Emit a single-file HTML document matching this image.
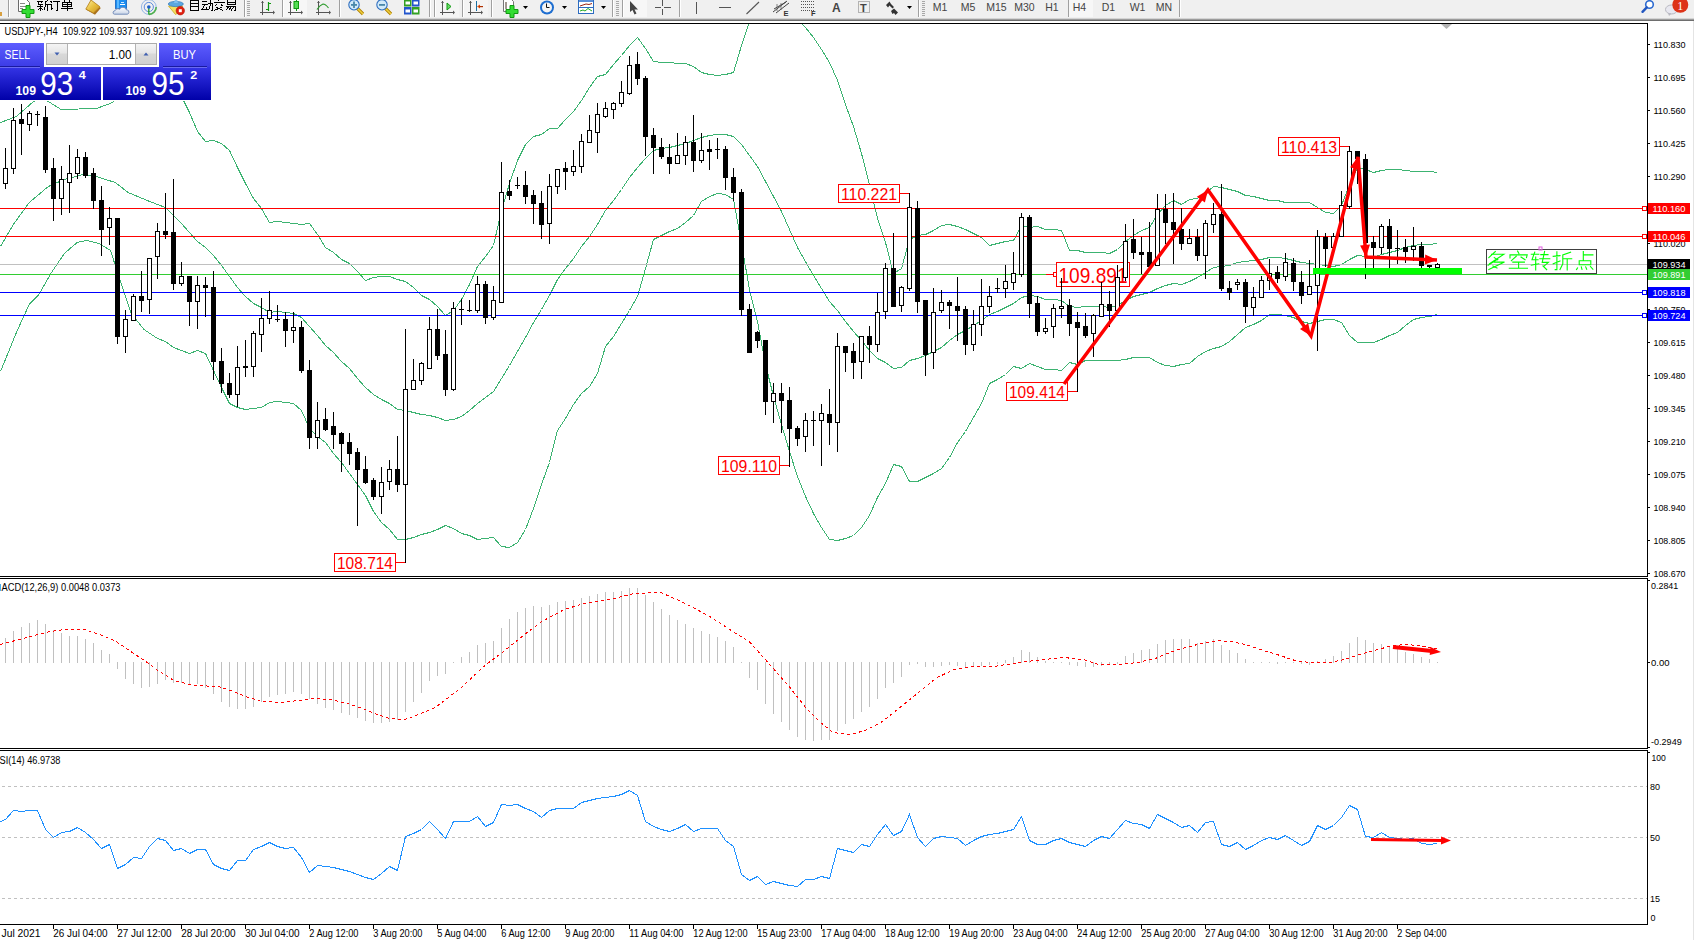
<!DOCTYPE html>
<html><head><meta charset="utf-8"><title>MT4</title>
<style>
html,body{margin:0;padding:0;width:1694px;height:940px;overflow:hidden;background:#fff;font-family:"Liberation Sans",sans-serif;}
</style></head><body>
<svg width="1694" height="940" viewBox="0 0 1694 940" style="position:absolute;left:0;top:0;display:block">
<defs><clipPath id="cm"><rect x="0" y="24" width="1647" height="552"/></clipPath><clipPath id="cmacd"><rect x="0" y="579" width="1647" height="169"/></clipPath><clipPath id="crsi"><rect x="0" y="751" width="1647" height="173"/></clipPath></defs>
<rect x="0" y="0" width="1694" height="18" fill="#F0F0F0"/>
<rect x="0" y="18" width="1694" height="1" fill="#D4D4D4"/>
<rect x="0" y="19" width="1694" height="1" fill="#9C9C9C"/>
<rect x="0" y="20" width="1694" height="1" fill="#6E6E6E"/>
<rect x="1693" y="21" width="1" height="919" fill="#E4E4E4"/>
<g clip-path="url(#cm)">
<g fill="none" stroke="#3CB371" stroke-width="1" shape-rendering="crispEdges">
<polyline points="0.5,122.5 16.4,116.5 32.4,102.5 40.5,96.5 51.5,103.5 61.1,109.5 96.2,108.5 110.5,103.5 130.5,90.5 150.5,75.5 157.5,70.5 165.5,73.5 173.5,84.5 181.5,96.5 189.5,112.5 197.5,131.5 205.5,141.5 213.5,140.5 221.5,143.5 229.5,150.5 237.5,167.5 245.5,183.5 253.5,198.5 261.5,208.5 269.5,222.5 277.5,221.5 285.5,222.5 293.5,223.5 301.5,224.5 309.5,223.5 317.5,234.5 325.5,247.5 333.5,252.5 341.5,259.5 349.5,263.5 357.5,271.5 365.5,280.5 373.5,277.5 381.5,276.5 389.5,276.5 397.5,279.5 405.5,281.5 413.5,287.5 421.5,295.5 429.5,299.5 437.5,306.5 445.5,315.5 453.5,310.5 461.5,299.5 469.5,284.5 477.5,266.5 485.5,256.5 493.5,245.5 501.5,210.5 509.5,183.5 517.5,160.5 525.5,144.5 533.5,136.5 541.5,134.5 549.5,128.5 557.5,128.5 565.5,119.5 573.5,111.5 581.5,100.5 589.5,87.5 597.5,76.5 605.5,74.5 613.5,64.5 621.5,55.5 629.5,45.5 637.5,37.5 645.5,48.5 653.5,61.5 661.5,62.5 669.5,62.5 677.5,63.5 685.5,63.5 693.5,66.5 701.5,72.5 709.5,74.5 717.5,75.5 725.5,74.5 733.5,72.5 741.5,45.5 749.5,21.5 757.5,12.5 765.5,-1.5 773.5,-4.5 781.5,-2.5 789.5,7.5 797.5,18.5 805.5,27.5 813.5,37.5 821.5,49.5 829.5,62.5 837.5,80.5 845.5,104.5 853.5,126.5 861.5,153.5 869.5,184.5 877.5,218.5 885.5,242.5 893.5,273.5 901.5,268.5 909.5,239.5 917.5,235.5 925.5,234.5 933.5,230.5 941.5,225.5 949.5,224.5 957.5,226.5 965.5,229.5 973.5,233.5 981.5,237.5 989.5,245.5 997.5,243.5 1005.5,241.5 1013.5,240.5 1021.5,225.5 1029.5,227.5 1037.5,226.5 1045.5,229.5 1053.5,229.5 1061.5,230.5 1069.5,250.5 1077.5,250.5 1085.5,252.5 1093.5,252.5 1101.5,252.5 1109.5,253.5 1117.5,249.5 1125.5,241.5 1133.5,235.5 1141.5,230.5 1149.5,227.5 1157.5,214.5 1165.5,205.5 1173.5,200.5 1181.5,204.5 1189.5,199.5 1197.5,198.5 1205.5,193.5 1213.5,186.5 1221.5,187.5 1229.5,189.5 1237.5,191.5 1245.5,195.5 1253.5,196.5 1261.5,198.5 1269.5,200.5 1277.5,200.5 1285.5,202.5 1293.5,202.5 1301.5,202.5 1309.5,202.5 1317.5,207.5 1325.5,212.5 1333.5,213.5 1341.5,205.5 1349.5,184.5 1357.5,167.5 1365.5,169.5 1373.5,172.5 1381.5,170.5 1389.5,169.5 1397.5,169.5 1405.5,170.5 1413.5,171.5 1421.5,171.5 1429.5,171.5 1437.5,172.5"/>
<polyline points="0.5,246.5 13.3,224.5 29.2,202.5 48.3,186.5 64.3,179.5 83.4,174.5 96.2,176.5 115.3,182.5 128.1,192.5 147.2,200.5 157.5,204.5 165.5,207.5 173.5,215.5 181.5,223.5 189.5,232.5 197.5,241.5 205.5,247.5 213.5,255.5 221.5,265.5 229.5,276.5 237.5,287.5 245.5,296.5 253.5,303.5 261.5,307.5 269.5,312.5 277.5,311.5 285.5,312.5 293.5,313.5 301.5,317.5 309.5,326.5 317.5,335.5 325.5,345.5 333.5,352.5 341.5,361.5 349.5,368.5 357.5,378.5 365.5,387.5 373.5,394.5 381.5,399.5 389.5,403.5 397.5,409.5 405.5,410.5 413.5,412.5 421.5,414.5 429.5,415.5 437.5,417.5 445.5,420.5 453.5,419.5 461.5,416.5 469.5,410.5 477.5,403.5 485.5,397.5 493.5,391.5 501.5,378.5 509.5,365.5 517.5,351.5 525.5,337.5 533.5,322.5 541.5,309.5 549.5,295.5 557.5,279.5 565.5,268.5 573.5,258.5 581.5,246.5 589.5,236.5 597.5,224.5 605.5,210.5 613.5,200.5 621.5,189.5 629.5,177.5 637.5,167.5 645.5,158.5 653.5,150.5 661.5,148.5 669.5,147.5 677.5,145.5 685.5,143.5 693.5,140.5 701.5,137.5 709.5,135.5 717.5,134.5 725.5,134.5 733.5,136.5 741.5,144.5 749.5,155.5 757.5,166.5 765.5,181.5 773.5,196.5 781.5,211.5 789.5,229.5 797.5,247.5 805.5,261.5 813.5,275.5 821.5,288.5 829.5,301.5 837.5,310.5 845.5,321.5 853.5,331.5 861.5,340.5 869.5,350.5 877.5,358.5 885.5,362.5 893.5,368.5 901.5,367.5 909.5,360.5 917.5,358.5 925.5,355.5 933.5,351.5 941.5,347.5 949.5,340.5 957.5,334.5 965.5,330.5 973.5,325.5 981.5,320.5 989.5,314.5 997.5,311.5 1005.5,307.5 1013.5,303.5 1021.5,297.5 1029.5,295.5 1037.5,296.5 1045.5,299.5 1053.5,299.5 1061.5,300.5 1069.5,306.5 1077.5,307.5 1085.5,306.5 1093.5,306.5 1101.5,306.5 1109.5,307.5 1117.5,305.5 1125.5,300.5 1133.5,296.5 1141.5,294.5 1149.5,292.5 1157.5,288.5 1165.5,285.5 1173.5,283.5 1181.5,284.5 1189.5,281.5 1197.5,277.5 1205.5,272.5 1213.5,267.5 1221.5,266.5 1229.5,265.5 1237.5,262.5 1245.5,261.5 1253.5,260.5 1261.5,259.5 1269.5,257.5 1277.5,257.5 1285.5,258.5 1293.5,260.5 1301.5,262.5 1309.5,263.5 1317.5,264.5 1325.5,265.5 1333.5,266.5 1341.5,264.5 1349.5,259.5 1357.5,255.5 1365.5,256.5 1373.5,257.5 1381.5,254.5 1389.5,252.5 1397.5,250.5 1405.5,247.5 1413.5,245.5 1421.5,244.5 1429.5,244.5 1437.5,243.5"/>
<polyline points="0.5,371.5 16.4,332.5 29.2,304.5 38.8,294.5 51.5,272.5 64.3,253.5 77.1,242.5 86.6,240.5 99.4,243.5 110.5,250.5 118.5,275.5 131.3,313.5 144.0,329.5 157.5,338.5 165.5,341.5 173.5,347.5 181.5,350.5 189.5,353.5 197.5,350.5 205.5,353.5 213.5,370.5 221.5,387.5 229.5,403.5 237.5,407.5 245.5,409.5 253.5,408.5 261.5,407.5 269.5,402.5 277.5,401.5 285.5,402.5 293.5,403.5 301.5,410.5 309.5,428.5 317.5,436.5 325.5,442.5 333.5,453.5 341.5,462.5 349.5,473.5 357.5,484.5 365.5,495.5 373.5,511.5 381.5,522.5 389.5,529.5 397.5,539.5 405.5,539.5 413.5,537.5 421.5,534.5 429.5,532.5 437.5,529.5 445.5,525.5 453.5,528.5 461.5,533.5 469.5,535.5 477.5,539.5 485.5,538.5 493.5,537.5 501.5,546.5 509.5,547.5 517.5,542.5 525.5,529.5 533.5,508.5 541.5,484.5 549.5,462.5 557.5,430.5 565.5,418.5 573.5,404.5 581.5,393.5 589.5,386.5 597.5,373.5 605.5,346.5 613.5,336.5 621.5,323.5 629.5,310.5 637.5,296.5 645.5,268.5 653.5,239.5 661.5,235.5 669.5,231.5 677.5,228.5 685.5,222.5 693.5,215.5 701.5,201.5 709.5,196.5 717.5,193.5 725.5,194.5 733.5,199.5 741.5,243.5 749.5,289.5 757.5,321.5 765.5,364.5 773.5,396.5 781.5,424.5 789.5,451.5 797.5,476.5 805.5,496.5 813.5,513.5 821.5,527.5 829.5,539.5 837.5,540.5 845.5,538.5 853.5,535.5 861.5,527.5 869.5,515.5 877.5,497.5 885.5,483.5 893.5,464.5 901.5,466.5 909.5,481.5 917.5,481.5 925.5,477.5 933.5,473.5 941.5,468.5 949.5,457.5 957.5,442.5 965.5,431.5 973.5,417.5 981.5,403.5 989.5,383.5 997.5,379.5 1005.5,374.5 1013.5,366.5 1021.5,368.5 1029.5,363.5 1037.5,366.5 1045.5,369.5 1053.5,369.5 1061.5,370.5 1069.5,362.5 1077.5,364.5 1085.5,360.5 1093.5,360.5 1101.5,360.5 1109.5,360.5 1117.5,360.5 1125.5,359.5 1133.5,357.5 1141.5,357.5 1149.5,357.5 1157.5,362.5 1165.5,365.5 1173.5,366.5 1181.5,364.5 1189.5,363.5 1197.5,356.5 1205.5,351.5 1213.5,348.5 1221.5,346.5 1229.5,341.5 1237.5,334.5 1245.5,327.5 1253.5,324.5 1261.5,320.5 1269.5,314.5 1277.5,314.5 1285.5,315.5 1293.5,317.5 1301.5,321.5 1309.5,323.5 1317.5,321.5 1325.5,319.5 1333.5,319.5 1341.5,322.5 1349.5,335.5 1357.5,342.5 1365.5,342.5 1373.5,342.5 1381.5,339.5 1389.5,335.5 1397.5,332.5 1405.5,325.5 1413.5,319.5 1421.5,317.5 1429.5,316.5 1437.5,314.5"/>
</g>
<g shape-rendering="crispEdges">
<rect x="0" y="208" width="1647" height="1" fill="#FF0000"/>
<rect x="0" y="236" width="1647" height="1" fill="#FF0000"/>
<rect x="0" y="264" width="1647" height="1" fill="#C0C0C0"/>
<rect x="0" y="274" width="1647" height="1" fill="#32CD32"/>
<rect x="0" y="292" width="1647" height="1" fill="#0000FF"/>
<rect x="0" y="315" width="1647" height="1" fill="#0000FF"/>
</g>
<rect x="838.5" y="184.5" width="61" height="18" fill="#fff" stroke="#FF0000" stroke-width="1" shape-rendering="crispEdges"/>
<text x="869.0" y="199.8" font-family="Liberation Sans, sans-serif" font-size="16.8" fill="#FF0000" text-anchor="middle" textLength="56" lengthAdjust="spacingAndGlyphs">110.221</text>
<rect x="900" y="193" width="9" height="1" fill="#FF0000" shape-rendering="crispEdges"/>
<rect x="334.5" y="553.5" width="61" height="18" fill="#fff" stroke="#FF0000" stroke-width="1" shape-rendering="crispEdges"/>
<text x="365.0" y="568.8" font-family="Liberation Sans, sans-serif" font-size="16.8" fill="#FF0000" text-anchor="middle" textLength="56" lengthAdjust="spacingAndGlyphs">108.714</text>
<rect x="396" y="562" width="9" height="1" fill="#FF0000" shape-rendering="crispEdges"/>
<rect x="718.5" y="456.5" width="61" height="18" fill="#fff" stroke="#FF0000" stroke-width="1" shape-rendering="crispEdges"/>
<text x="749.0" y="471.8" font-family="Liberation Sans, sans-serif" font-size="16.8" fill="#FF0000" text-anchor="middle" textLength="56" lengthAdjust="spacingAndGlyphs">109.110</text>
<rect x="780" y="465" width="9" height="1" fill="#FF0000" shape-rendering="crispEdges"/>
<rect x="1006.5" y="382.5" width="61" height="18" fill="#fff" stroke="#FF0000" stroke-width="1" shape-rendering="crispEdges"/>
<text x="1037.0" y="397.8" font-family="Liberation Sans, sans-serif" font-size="16.8" fill="#FF0000" text-anchor="middle" textLength="56" lengthAdjust="spacingAndGlyphs">109.414</text>
<rect x="1068" y="391" width="9" height="1" fill="#FF0000" shape-rendering="crispEdges"/>
<rect x="1278.5" y="137.5" width="61" height="18" fill="#fff" stroke="#FF0000" stroke-width="1" shape-rendering="crispEdges"/>
<text x="1309.0" y="152.8" font-family="Liberation Sans, sans-serif" font-size="16.8" fill="#FF0000" text-anchor="middle" textLength="56" lengthAdjust="spacingAndGlyphs">110.413</text>
<rect x="1340" y="146" width="9" height="1" fill="#FF0000" shape-rendering="crispEdges"/>
<rect x="1056.5" y="262.5" width="73" height="24" fill="#fff" stroke="#FF0000" stroke-width="1" shape-rendering="crispEdges"/>
<text x="1093.0" y="283" font-family="Liberation Sans, sans-serif" font-size="21.8" fill="#FF0000" text-anchor="middle" textLength="69" lengthAdjust="spacingAndGlyphs">109.891</text>
<rect x="1046" y="274" width="8" height="1" fill="#FF0000"/>
<rect x="1053.5" y="272.5" width="3" height="4" fill="#fff" stroke="#FF0000" stroke-width="1" shape-rendering="crispEdges"/>
<g shape-rendering="crispEdges">
<rect x="5" y="148" width="1" height="41" fill="#000"/>
<rect x="3.5" y="168.5" width="4" height="15" fill="#fff" stroke="#000" stroke-width="1"/>
<rect x="13" y="108" width="1" height="66" fill="#000"/>
<rect x="11.5" y="120.5" width="4" height="48" fill="#fff" stroke="#000" stroke-width="1"/>
<rect x="21" y="104" width="1" height="51" fill="#000"/>
<rect x="19" y="119" width="5" height="5" fill="#000"/>
<rect x="29" y="111" width="1" height="20" fill="#000"/>
<rect x="27.5" y="113.5" width="4" height="11" fill="#fff" stroke="#000" stroke-width="1"/>
<rect x="37" y="111" width="1" height="15" fill="#000"/>
<rect x="35" y="114" width="5" height="1" fill="#000"/>
<rect x="45" y="106" width="1" height="67" fill="#000"/>
<rect x="43" y="117" width="5" height="53" fill="#000"/>
<rect x="53" y="158" width="1" height="63" fill="#000"/>
<rect x="51" y="168" width="5" height="31" fill="#000"/>
<rect x="61" y="166" width="1" height="49" fill="#000"/>
<rect x="59.5" y="179.5" width="4" height="19" fill="#fff" stroke="#000" stroke-width="1"/>
<rect x="69" y="145" width="1" height="68" fill="#000"/>
<rect x="67.5" y="173.5" width="4" height="9" fill="#fff" stroke="#000" stroke-width="1"/>
<rect x="77" y="149" width="1" height="30" fill="#000"/>
<rect x="75.5" y="157.5" width="4" height="16" fill="#fff" stroke="#000" stroke-width="1"/>
<rect x="85" y="152" width="1" height="26" fill="#000"/>
<rect x="83" y="157" width="5" height="19" fill="#000"/>
<rect x="93" y="168" width="1" height="41" fill="#000"/>
<rect x="91" y="173" width="5" height="28" fill="#000"/>
<rect x="101" y="186" width="1" height="70" fill="#000"/>
<rect x="99" y="200" width="5" height="30" fill="#000"/>
<rect x="109" y="207" width="1" height="38" fill="#000"/>
<rect x="107.5" y="218.5" width="4" height="9" fill="#fff" stroke="#000" stroke-width="1"/>
<rect x="117" y="218" width="1" height="126" fill="#000"/>
<rect x="115" y="218" width="5" height="119" fill="#000"/>
<rect x="125" y="310" width="1" height="43" fill="#000"/>
<rect x="123.5" y="319.5" width="4" height="17" fill="#fff" stroke="#000" stroke-width="1"/>
<rect x="133" y="294" width="1" height="27" fill="#000"/>
<rect x="131.5" y="296.5" width="4" height="24" fill="#fff" stroke="#000" stroke-width="1"/>
<rect x="141" y="271" width="1" height="41" fill="#000"/>
<rect x="139" y="296" width="5" height="5" fill="#000"/>
<rect x="149" y="258" width="1" height="56" fill="#000"/>
<rect x="147.5" y="258.5" width="4" height="41" fill="#fff" stroke="#000" stroke-width="1"/>
<rect x="157" y="223" width="1" height="56" fill="#000"/>
<rect x="155.5" y="231.5" width="4" height="25" fill="#fff" stroke="#000" stroke-width="1"/>
<rect x="165" y="193" width="1" height="46" fill="#000"/>
<rect x="163" y="231" width="5" height="4" fill="#000"/>
<rect x="173" y="179" width="1" height="111" fill="#000"/>
<rect x="171" y="232" width="5" height="52" fill="#000"/>
<rect x="181" y="262" width="1" height="24" fill="#000"/>
<rect x="179.5" y="276.5" width="4" height="7" fill="#fff" stroke="#000" stroke-width="1"/>
<rect x="189" y="276" width="1" height="50" fill="#000"/>
<rect x="187" y="276" width="5" height="26" fill="#000"/>
<rect x="197" y="276" width="1" height="53" fill="#000"/>
<rect x="195.5" y="285.5" width="4" height="16" fill="#fff" stroke="#000" stroke-width="1"/>
<rect x="205" y="277" width="1" height="40" fill="#000"/>
<rect x="203" y="285" width="5" height="3" fill="#000"/>
<rect x="213" y="271" width="1" height="109" fill="#000"/>
<rect x="211" y="287" width="5" height="75" fill="#000"/>
<rect x="221" y="348" width="1" height="45" fill="#000"/>
<rect x="219" y="361" width="5" height="23" fill="#000"/>
<rect x="229" y="373" width="1" height="25" fill="#000"/>
<rect x="227" y="383" width="5" height="12" fill="#000"/>
<rect x="237" y="346" width="1" height="61" fill="#000"/>
<rect x="235.5" y="367.5" width="4" height="27" fill="#fff" stroke="#000" stroke-width="1"/>
<rect x="245" y="340" width="1" height="37" fill="#000"/>
<rect x="243.5" y="366.5" width="4" height="1" fill="#fff" stroke="#000" stroke-width="1"/>
<rect x="253" y="331" width="1" height="46" fill="#000"/>
<rect x="251.5" y="333.5" width="4" height="33" fill="#fff" stroke="#000" stroke-width="1"/>
<rect x="261" y="298" width="1" height="54" fill="#000"/>
<rect x="259.5" y="318.5" width="4" height="16" fill="#fff" stroke="#000" stroke-width="1"/>
<rect x="269" y="291" width="1" height="33" fill="#000"/>
<rect x="267.5" y="310.5" width="4" height="8" fill="#fff" stroke="#000" stroke-width="1"/>
<rect x="277" y="305" width="1" height="17" fill="#000"/>
<rect x="275" y="319" width="5" height="1" fill="#000"/>
<rect x="285" y="312" width="1" height="35" fill="#000"/>
<rect x="283" y="319" width="5" height="12" fill="#000"/>
<rect x="293" y="312" width="1" height="31" fill="#000"/>
<rect x="291.5" y="327.5" width="4" height="3" fill="#fff" stroke="#000" stroke-width="1"/>
<rect x="301" y="321" width="1" height="52" fill="#000"/>
<rect x="299" y="327" width="5" height="44" fill="#000"/>
<rect x="309" y="360" width="1" height="89" fill="#000"/>
<rect x="307" y="370" width="5" height="68" fill="#000"/>
<rect x="317" y="402" width="1" height="47" fill="#000"/>
<rect x="315.5" y="420.5" width="4" height="17" fill="#fff" stroke="#000" stroke-width="1"/>
<rect x="325" y="408" width="1" height="23" fill="#000"/>
<rect x="323" y="419" width="5" height="11" fill="#000"/>
<rect x="333" y="412" width="1" height="37" fill="#000"/>
<rect x="331" y="426" width="5" height="9" fill="#000"/>
<rect x="341" y="432" width="1" height="40" fill="#000"/>
<rect x="339" y="433" width="5" height="11" fill="#000"/>
<rect x="349" y="433" width="1" height="32" fill="#000"/>
<rect x="347" y="442" width="5" height="12" fill="#000"/>
<rect x="357" y="448" width="1" height="78" fill="#000"/>
<rect x="355" y="452" width="5" height="18" fill="#000"/>
<rect x="365" y="456" width="1" height="28" fill="#000"/>
<rect x="363" y="469" width="5" height="14" fill="#000"/>
<rect x="373" y="478" width="1" height="22" fill="#000"/>
<rect x="371" y="480" width="5" height="17" fill="#000"/>
<rect x="381" y="467" width="1" height="47" fill="#000"/>
<rect x="379.5" y="482.5" width="4" height="14" fill="#fff" stroke="#000" stroke-width="1"/>
<rect x="389" y="460" width="1" height="30" fill="#000"/>
<rect x="387.5" y="469.5" width="4" height="12" fill="#fff" stroke="#000" stroke-width="1"/>
<rect x="397" y="436" width="1" height="56" fill="#000"/>
<rect x="395" y="469" width="5" height="16" fill="#000"/>
<rect x="405" y="329" width="1" height="234" fill="#000"/>
<rect x="403.5" y="389.5" width="4" height="95" fill="#fff" stroke="#000" stroke-width="1"/>
<rect x="413" y="359" width="1" height="31" fill="#000"/>
<rect x="411.5" y="380.5" width="4" height="9" fill="#fff" stroke="#000" stroke-width="1"/>
<rect x="421" y="362" width="1" height="23" fill="#000"/>
<rect x="419.5" y="363.5" width="4" height="17" fill="#fff" stroke="#000" stroke-width="1"/>
<rect x="429" y="317" width="1" height="52" fill="#000"/>
<rect x="427.5" y="329.5" width="4" height="39" fill="#fff" stroke="#000" stroke-width="1"/>
<rect x="437" y="309" width="1" height="51" fill="#000"/>
<rect x="435" y="329" width="5" height="27" fill="#000"/>
<rect x="445" y="330" width="1" height="66" fill="#000"/>
<rect x="443" y="354" width="5" height="36" fill="#000"/>
<rect x="453" y="302" width="1" height="89" fill="#000"/>
<rect x="451.5" y="308.5" width="4" height="81" fill="#fff" stroke="#000" stroke-width="1"/>
<rect x="461" y="299" width="1" height="26" fill="#000"/>
<rect x="459" y="309" width="5" height="1" fill="#000"/>
<rect x="469" y="300" width="1" height="12" fill="#000"/>
<rect x="467" y="310" width="5" height="1" fill="#000"/>
<rect x="477" y="276" width="1" height="37" fill="#000"/>
<rect x="475.5" y="284.5" width="4" height="26" fill="#fff" stroke="#000" stroke-width="1"/>
<rect x="485" y="281" width="1" height="43" fill="#000"/>
<rect x="483" y="284" width="5" height="34" fill="#000"/>
<rect x="493" y="286" width="1" height="34" fill="#000"/>
<rect x="491.5" y="300.5" width="4" height="17" fill="#fff" stroke="#000" stroke-width="1"/>
<rect x="501" y="162" width="1" height="141" fill="#000"/>
<rect x="499.5" y="192.5" width="4" height="110" fill="#fff" stroke="#000" stroke-width="1"/>
<rect x="509" y="180" width="1" height="20" fill="#000"/>
<rect x="507" y="191" width="5" height="5" fill="#000"/>
<rect x="517" y="177" width="1" height="12" fill="#000"/>
<rect x="515" y="185" width="5" height="1" fill="#000"/>
<rect x="525" y="171" width="1" height="33" fill="#000"/>
<rect x="523" y="185" width="5" height="12" fill="#000"/>
<rect x="533" y="190" width="1" height="34" fill="#000"/>
<rect x="531" y="195" width="5" height="9" fill="#000"/>
<rect x="541" y="191" width="1" height="48" fill="#000"/>
<rect x="539" y="203" width="5" height="22" fill="#000"/>
<rect x="549" y="174" width="1" height="70" fill="#000"/>
<rect x="547.5" y="186.5" width="4" height="37" fill="#fff" stroke="#000" stroke-width="1"/>
<rect x="557" y="169" width="1" height="25" fill="#000"/>
<rect x="555.5" y="169.5" width="4" height="17" fill="#fff" stroke="#000" stroke-width="1"/>
<rect x="565" y="162" width="1" height="28" fill="#000"/>
<rect x="563" y="168" width="5" height="4" fill="#000"/>
<rect x="573" y="150" width="1" height="26" fill="#000"/>
<rect x="571.5" y="166.5" width="4" height="5" fill="#fff" stroke="#000" stroke-width="1"/>
<rect x="581" y="134" width="1" height="39" fill="#000"/>
<rect x="579.5" y="141.5" width="4" height="25" fill="#fff" stroke="#000" stroke-width="1"/>
<rect x="589" y="115" width="1" height="28" fill="#000"/>
<rect x="587.5" y="130.5" width="4" height="12" fill="#fff" stroke="#000" stroke-width="1"/>
<rect x="597" y="103" width="1" height="50" fill="#000"/>
<rect x="595.5" y="114.5" width="4" height="18" fill="#fff" stroke="#000" stroke-width="1"/>
<rect x="605" y="102" width="1" height="16" fill="#000"/>
<rect x="603.5" y="108.5" width="4" height="8" fill="#fff" stroke="#000" stroke-width="1"/>
<rect x="613" y="102" width="1" height="17" fill="#000"/>
<rect x="611.5" y="103.5" width="4" height="6" fill="#fff" stroke="#000" stroke-width="1"/>
<rect x="621" y="81" width="1" height="26" fill="#000"/>
<rect x="619.5" y="92.5" width="4" height="11" fill="#fff" stroke="#000" stroke-width="1"/>
<rect x="629" y="56" width="1" height="39" fill="#000"/>
<rect x="627.5" y="65.5" width="4" height="28" fill="#fff" stroke="#000" stroke-width="1"/>
<rect x="637" y="52" width="1" height="33" fill="#000"/>
<rect x="635" y="64" width="5" height="15" fill="#000"/>
<rect x="645" y="76" width="1" height="80" fill="#000"/>
<rect x="643" y="78" width="5" height="59" fill="#000"/>
<rect x="653" y="128" width="1" height="46" fill="#000"/>
<rect x="651" y="135" width="5" height="13" fill="#000"/>
<rect x="661" y="138" width="1" height="21" fill="#000"/>
<rect x="659" y="147" width="5" height="10" fill="#000"/>
<rect x="669" y="144" width="1" height="30" fill="#000"/>
<rect x="667" y="157" width="5" height="7" fill="#000"/>
<rect x="677" y="133" width="1" height="31" fill="#000"/>
<rect x="675.5" y="155.5" width="4" height="8" fill="#fff" stroke="#000" stroke-width="1"/>
<rect x="685" y="136" width="1" height="29" fill="#000"/>
<rect x="683.5" y="142.5" width="4" height="13" fill="#fff" stroke="#000" stroke-width="1"/>
<rect x="693" y="115" width="1" height="57" fill="#000"/>
<rect x="691" y="142" width="5" height="19" fill="#000"/>
<rect x="701" y="133" width="1" height="30" fill="#000"/>
<rect x="699.5" y="150.5" width="4" height="10" fill="#fff" stroke="#000" stroke-width="1"/>
<rect x="709" y="140" width="1" height="30" fill="#000"/>
<rect x="707" y="149" width="5" height="3" fill="#000"/>
<rect x="717" y="138" width="1" height="21" fill="#000"/>
<rect x="715" y="149" width="5" height="1" fill="#000"/>
<rect x="725" y="146" width="1" height="44" fill="#000"/>
<rect x="723" y="149" width="5" height="29" fill="#000"/>
<rect x="733" y="168" width="1" height="33" fill="#000"/>
<rect x="731" y="177" width="5" height="16" fill="#000"/>
<rect x="741" y="189" width="1" height="127" fill="#000"/>
<rect x="739" y="192" width="5" height="118" fill="#000"/>
<rect x="749" y="304" width="1" height="49" fill="#000"/>
<rect x="747" y="309" width="5" height="44" fill="#000"/>
<rect x="757" y="331" width="1" height="17" fill="#000"/>
<rect x="755" y="332" width="5" height="9" fill="#000"/>
<rect x="765" y="340" width="1" height="75" fill="#000"/>
<rect x="763" y="340" width="5" height="62" fill="#000"/>
<rect x="773" y="383" width="1" height="40" fill="#000"/>
<rect x="771.5" y="393.5" width="4" height="8" fill="#fff" stroke="#000" stroke-width="1"/>
<rect x="781" y="383" width="1" height="50" fill="#000"/>
<rect x="779" y="393" width="5" height="8" fill="#000"/>
<rect x="789" y="387" width="1" height="80" fill="#000"/>
<rect x="787" y="400" width="5" height="29" fill="#000"/>
<rect x="797" y="426" width="1" height="20" fill="#000"/>
<rect x="795" y="428" width="5" height="11" fill="#000"/>
<rect x="805" y="413" width="1" height="39" fill="#000"/>
<rect x="803.5" y="420.5" width="4" height="16" fill="#fff" stroke="#000" stroke-width="1"/>
<rect x="813" y="411" width="1" height="35" fill="#000"/>
<rect x="811" y="420" width="5" height="1" fill="#000"/>
<rect x="821" y="404" width="1" height="62" fill="#000"/>
<rect x="819.5" y="413.5" width="4" height="7" fill="#fff" stroke="#000" stroke-width="1"/>
<rect x="829" y="389" width="1" height="56" fill="#000"/>
<rect x="827" y="414" width="5" height="9" fill="#000"/>
<rect x="837" y="333" width="1" height="119" fill="#000"/>
<rect x="835.5" y="346.5" width="4" height="76" fill="#fff" stroke="#000" stroke-width="1"/>
<rect x="845" y="346" width="1" height="26" fill="#000"/>
<rect x="843" y="346" width="5" height="7" fill="#000"/>
<rect x="853" y="343" width="1" height="36" fill="#000"/>
<rect x="851" y="351" width="5" height="12" fill="#000"/>
<rect x="861" y="336" width="1" height="43" fill="#000"/>
<rect x="859.5" y="336.5" width="4" height="25" fill="#fff" stroke="#000" stroke-width="1"/>
<rect x="869" y="326" width="1" height="37" fill="#000"/>
<rect x="867" y="336" width="5" height="9" fill="#000"/>
<rect x="877" y="293" width="1" height="59" fill="#000"/>
<rect x="875.5" y="312.5" width="4" height="32" fill="#fff" stroke="#000" stroke-width="1"/>
<rect x="885" y="263" width="1" height="56" fill="#000"/>
<rect x="883.5" y="268.5" width="4" height="43" fill="#fff" stroke="#000" stroke-width="1"/>
<rect x="893" y="233" width="1" height="74" fill="#000"/>
<rect x="891" y="268" width="5" height="39" fill="#000"/>
<rect x="901" y="286" width="1" height="26" fill="#000"/>
<rect x="899.5" y="287.5" width="4" height="18" fill="#fff" stroke="#000" stroke-width="1"/>
<rect x="909" y="193" width="1" height="98" fill="#000"/>
<rect x="907.5" y="207.5" width="4" height="81" fill="#fff" stroke="#000" stroke-width="1"/>
<rect x="917" y="201" width="1" height="112" fill="#000"/>
<rect x="915" y="208" width="5" height="94" fill="#000"/>
<rect x="925" y="300" width="1" height="76" fill="#000"/>
<rect x="923" y="300" width="5" height="55" fill="#000"/>
<rect x="933" y="288" width="1" height="81" fill="#000"/>
<rect x="931.5" y="312.5" width="4" height="40" fill="#fff" stroke="#000" stroke-width="1"/>
<rect x="941" y="290" width="1" height="23" fill="#000"/>
<rect x="939.5" y="302.5" width="4" height="8" fill="#fff" stroke="#000" stroke-width="1"/>
<rect x="949" y="300" width="1" height="29" fill="#000"/>
<rect x="947" y="302" width="5" height="4" fill="#000"/>
<rect x="957" y="277" width="1" height="64" fill="#000"/>
<rect x="955" y="306" width="5" height="5" fill="#000"/>
<rect x="965" y="306" width="1" height="49" fill="#000"/>
<rect x="963" y="309" width="5" height="36" fill="#000"/>
<rect x="973" y="310" width="1" height="41" fill="#000"/>
<rect x="971.5" y="324.5" width="4" height="20" fill="#fff" stroke="#000" stroke-width="1"/>
<rect x="981" y="279" width="1" height="57" fill="#000"/>
<rect x="979.5" y="306.5" width="4" height="18" fill="#fff" stroke="#000" stroke-width="1"/>
<rect x="989" y="286" width="1" height="27" fill="#000"/>
<rect x="987.5" y="296.5" width="4" height="10" fill="#fff" stroke="#000" stroke-width="1"/>
<rect x="997" y="278" width="1" height="15" fill="#000"/>
<rect x="995" y="288" width="5" height="1" fill="#000"/>
<rect x="1005" y="265" width="1" height="33" fill="#000"/>
<rect x="1003.5" y="281.5" width="4" height="7" fill="#fff" stroke="#000" stroke-width="1"/>
<rect x="1013" y="252" width="1" height="38" fill="#000"/>
<rect x="1011.5" y="273.5" width="4" height="9" fill="#fff" stroke="#000" stroke-width="1"/>
<rect x="1021" y="213" width="1" height="64" fill="#000"/>
<rect x="1019.5" y="217.5" width="4" height="57" fill="#fff" stroke="#000" stroke-width="1"/>
<rect x="1029" y="215" width="1" height="103" fill="#000"/>
<rect x="1027" y="217" width="5" height="87" fill="#000"/>
<rect x="1037" y="296" width="1" height="40" fill="#000"/>
<rect x="1035" y="303" width="5" height="29" fill="#000"/>
<rect x="1045" y="318" width="1" height="16" fill="#000"/>
<rect x="1043.5" y="328.5" width="4" height="3" fill="#fff" stroke="#000" stroke-width="1"/>
<rect x="1053" y="304" width="1" height="34" fill="#000"/>
<rect x="1051.5" y="308.5" width="4" height="18" fill="#fff" stroke="#000" stroke-width="1"/>
<rect x="1061" y="278" width="1" height="40" fill="#000"/>
<rect x="1059.5" y="306.5" width="4" height="2" fill="#fff" stroke="#000" stroke-width="1"/>
<rect x="1069" y="299" width="1" height="37" fill="#000"/>
<rect x="1067" y="305" width="5" height="19" fill="#000"/>
<rect x="1077" y="312" width="1" height="80" fill="#000"/>
<rect x="1075" y="322" width="5" height="6" fill="#000"/>
<rect x="1085" y="313" width="1" height="25" fill="#000"/>
<rect x="1083" y="326" width="5" height="10" fill="#000"/>
<rect x="1093" y="314" width="1" height="43" fill="#000"/>
<rect x="1091.5" y="315.5" width="4" height="18" fill="#fff" stroke="#000" stroke-width="1"/>
<rect x="1101" y="282" width="1" height="35" fill="#000"/>
<rect x="1099.5" y="304.5" width="4" height="12" fill="#fff" stroke="#000" stroke-width="1"/>
<rect x="1109" y="291" width="1" height="36" fill="#000"/>
<rect x="1107" y="304" width="5" height="7" fill="#000"/>
<rect x="1117" y="265" width="1" height="46" fill="#000"/>
<rect x="1115.5" y="277.5" width="4" height="33" fill="#fff" stroke="#000" stroke-width="1"/>
<rect x="1125" y="224" width="1" height="57" fill="#000"/>
<rect x="1123.5" y="241.5" width="4" height="36" fill="#fff" stroke="#000" stroke-width="1"/>
<rect x="1133" y="219" width="1" height="40" fill="#000"/>
<rect x="1131" y="239" width="5" height="14" fill="#000"/>
<rect x="1141" y="237" width="1" height="37" fill="#000"/>
<rect x="1139" y="252" width="5" height="3" fill="#000"/>
<rect x="1149" y="222" width="1" height="45" fill="#000"/>
<rect x="1147" y="252" width="5" height="15" fill="#000"/>
<rect x="1157" y="194" width="1" height="72" fill="#000"/>
<rect x="1155.5" y="209.5" width="4" height="56" fill="#fff" stroke="#000" stroke-width="1"/>
<rect x="1165" y="194" width="1" height="50" fill="#000"/>
<rect x="1163" y="209" width="5" height="14" fill="#000"/>
<rect x="1173" y="193" width="1" height="71" fill="#000"/>
<rect x="1171" y="222" width="5" height="8" fill="#000"/>
<rect x="1181" y="208" width="1" height="42" fill="#000"/>
<rect x="1179" y="229" width="5" height="15" fill="#000"/>
<rect x="1189" y="229" width="1" height="15" fill="#000"/>
<rect x="1187.5" y="238.5" width="4" height="5" fill="#fff" stroke="#000" stroke-width="1"/>
<rect x="1197" y="229" width="1" height="32" fill="#000"/>
<rect x="1195" y="237" width="5" height="19" fill="#000"/>
<rect x="1205" y="220" width="1" height="59" fill="#000"/>
<rect x="1203.5" y="223.5" width="4" height="32" fill="#fff" stroke="#000" stroke-width="1"/>
<rect x="1213" y="203" width="1" height="30" fill="#000"/>
<rect x="1211.5" y="214.5" width="4" height="10" fill="#fff" stroke="#000" stroke-width="1"/>
<rect x="1221" y="184" width="1" height="107" fill="#000"/>
<rect x="1219" y="214" width="5" height="75" fill="#000"/>
<rect x="1229" y="281" width="1" height="19" fill="#000"/>
<rect x="1227" y="288" width="5" height="5" fill="#000"/>
<rect x="1237" y="279" width="1" height="11" fill="#000"/>
<rect x="1235.5" y="282.5" width="4" height="2" fill="#fff" stroke="#000" stroke-width="1"/>
<rect x="1245" y="279" width="1" height="44" fill="#000"/>
<rect x="1243" y="282" width="5" height="25" fill="#000"/>
<rect x="1253" y="287" width="1" height="29" fill="#000"/>
<rect x="1251.5" y="297.5" width="4" height="10" fill="#fff" stroke="#000" stroke-width="1"/>
<rect x="1261" y="276" width="1" height="22" fill="#000"/>
<rect x="1259.5" y="280.5" width="4" height="17" fill="#fff" stroke="#000" stroke-width="1"/>
<rect x="1269" y="259" width="1" height="31" fill="#000"/>
<rect x="1267.5" y="273.5" width="4" height="7" fill="#fff" stroke="#000" stroke-width="1"/>
<rect x="1277" y="266" width="1" height="17" fill="#000"/>
<rect x="1275" y="272" width="5" height="7" fill="#000"/>
<rect x="1285" y="253" width="1" height="28" fill="#000"/>
<rect x="1283.5" y="262.5" width="4" height="14" fill="#fff" stroke="#000" stroke-width="1"/>
<rect x="1293" y="258" width="1" height="33" fill="#000"/>
<rect x="1291" y="263" width="5" height="19" fill="#000"/>
<rect x="1301" y="271" width="1" height="33" fill="#000"/>
<rect x="1299" y="282" width="5" height="14" fill="#000"/>
<rect x="1309" y="260" width="1" height="35" fill="#000"/>
<rect x="1307.5" y="286.5" width="4" height="8" fill="#fff" stroke="#000" stroke-width="1"/>
<rect x="1317" y="230" width="1" height="121" fill="#000"/>
<rect x="1315.5" y="236.5" width="4" height="49" fill="#fff" stroke="#000" stroke-width="1"/>
<rect x="1325" y="233" width="1" height="34" fill="#000"/>
<rect x="1323" y="237" width="5" height="12" fill="#000"/>
<rect x="1333" y="233" width="1" height="16" fill="#000"/>
<rect x="1331.5" y="236.5" width="4" height="11" fill="#fff" stroke="#000" stroke-width="1"/>
<rect x="1341" y="191" width="1" height="46" fill="#000"/>
<rect x="1339.5" y="205.5" width="4" height="31" fill="#fff" stroke="#000" stroke-width="1"/>
<rect x="1349" y="146" width="1" height="63" fill="#000"/>
<rect x="1347.5" y="151.5" width="4" height="55" fill="#fff" stroke="#000" stroke-width="1"/>
<rect x="1357" y="151" width="1" height="33" fill="#000"/>
<rect x="1355" y="151" width="5" height="8" fill="#000"/>
<rect x="1365" y="154" width="1" height="125" fill="#000"/>
<rect x="1363" y="159" width="5" height="84" fill="#000"/>
<rect x="1373" y="236" width="1" height="33" fill="#000"/>
<rect x="1371" y="242" width="5" height="6" fill="#000"/>
<rect x="1381" y="224" width="1" height="30" fill="#000"/>
<rect x="1379.5" y="226.5" width="4" height="21" fill="#fff" stroke="#000" stroke-width="1"/>
<rect x="1389" y="219" width="1" height="50" fill="#000"/>
<rect x="1387" y="226" width="5" height="23" fill="#000"/>
<rect x="1397" y="230" width="1" height="34" fill="#000"/>
<rect x="1395" y="248" width="5" height="1" fill="#000"/>
<rect x="1405" y="239" width="1" height="24" fill="#000"/>
<rect x="1403" y="247" width="5" height="5" fill="#000"/>
<rect x="1413" y="227" width="1" height="34" fill="#000"/>
<rect x="1411.5" y="246.5" width="4" height="3" fill="#fff" stroke="#000" stroke-width="1"/>
<rect x="1421" y="242" width="1" height="27" fill="#000"/>
<rect x="1419" y="246" width="5" height="20" fill="#000"/>
<rect x="1429" y="265" width="1" height="4" fill="#000"/>
<rect x="1427" y="265" width="5" height="2" fill="#000"/>
<rect x="1437" y="263" width="1" height="5" fill="#000"/>
<rect x="1435.5" y="264.5" width="4" height="3" fill="#fff" stroke="#000" stroke-width="1"/>
</g>
<g>
<polyline points="1064,384 1208,190 1311,336 1358,157 1366,257 1437,260" fill="none" stroke="#FF0000" stroke-width="3.5" stroke-linejoin="miter"/>
<polygon points="1208.0,190 1204.9,202.6 1196.8,196.7" fill="#FF0000"/>
<polygon points="1311.0,336 1300.0,329.1 1308.2,323.3" fill="#FF0000"/>
<polygon points="1358.0,157 1359.8,169.9 1350.1,167.3" fill="#FF0000"/>
<polygon points="1366.0,257 1360.1,245.4 1370.0,244.6" fill="#FF0000"/>
<polygon points="1437.0,260 1424.8,264.5 1425.2,254.5" fill="#FF0000"/>
</g>
<rect x="1313" y="268" width="149" height="6" fill="#00FF00"/>
</g>
<rect x="1486.5" y="249.5" width="110" height="24" fill="none" stroke="#404040" stroke-width="1" shape-rendering="crispEdges"/>
<rect x="1539" y="247" width="3" height="3" fill="none" stroke="#E060E0" stroke-width="1"/>
<g stroke="#00FF00" stroke-width="1.1" fill="none" stroke-linecap="square">
<path d="M1495.3,251.5 L1488.8,257.6 M1491.5,254.2 H1503.9 L1489.5,263.8 M1494.3,257.6 L1497.7,259.7 M1497.8,259 L1488.1,265.2 M1494.3,262.1 H1504.5 L1488.8,269.6 M1492.9,265.9 L1497,267.9"/>
<path d="M1517.6,251.1 L1518.9,253.5 M1510,258 V254.9 H1527.2 L1526.5,257.6 M1516.2,256.3 L1511.4,260.7 M1521,257 L1525.1,259.7 M1512.8,262.1 H1524.4 M1518.6,262.1 V268.3 M1509.3,268.3 H1527.5"/>
<path d="M1531.3,254.2 H1538.8 M1534.7,252.2 L1532,259.7 H1538.1 M1535.7,257 V270 M1531.3,265.2 L1538.8,263.8 M1540.8,254.6 H1548 M1539.8,258.7 H1549.8 M1544.6,251.5 L1542.2,262.4 H1548.4 L1544.3,265.9 M1543,265.9 L1546.7,269.6"/>
<path d="M1553.2,256.3 L1560,255.6 M1556.9,251.8 V269.6 H1555.2 M1553.2,263.8 L1560,261 M1570.6,252.2 L1562.8,254.9 V263.8 L1560,269.6 M1562.8,258.7 H1571.7 M1567.2,258.7 V270"/>
<path d="M1583.3,251.5 V260.7 M1583.3,254.9 H1592.9 M1579.2,260.7 H1590.8 V264.8 H1579.2 Z M1577.5,267.9 L1576.5,269.6 M1581.3,266.9 L1582,269.3 M1585.7,266.9 L1586.7,269.3 M1590.5,266.5 L1592.9,269.3"/>
</g>
<g clip-path="url(#cmacd)" shape-rendering="crispEdges">
<rect x="5" y="638" width="1" height="25" fill="#C0C0C0"/>
<rect x="13" y="631" width="1" height="32" fill="#C0C0C0"/>
<rect x="21" y="627" width="1" height="36" fill="#C0C0C0"/>
<rect x="29" y="623" width="1" height="40" fill="#C0C0C0"/>
<rect x="37" y="620" width="1" height="43" fill="#C0C0C0"/>
<rect x="45" y="624" width="1" height="39" fill="#C0C0C0"/>
<rect x="53" y="630" width="1" height="33" fill="#C0C0C0"/>
<rect x="61" y="633" width="1" height="30" fill="#C0C0C0"/>
<rect x="69" y="636" width="1" height="27" fill="#C0C0C0"/>
<rect x="77" y="636" width="1" height="27" fill="#C0C0C0"/>
<rect x="85" y="639" width="1" height="24" fill="#C0C0C0"/>
<rect x="93" y="643" width="1" height="20" fill="#C0C0C0"/>
<rect x="101" y="650" width="1" height="13" fill="#C0C0C0"/>
<rect x="109" y="654" width="1" height="9" fill="#C0C0C0"/>
<rect x="117" y="662" width="1" height="7" fill="#C0C0C0"/>
<rect x="125" y="662" width="1" height="17" fill="#C0C0C0"/>
<rect x="133" y="662" width="1" height="22" fill="#C0C0C0"/>
<rect x="141" y="662" width="1" height="26" fill="#C0C0C0"/>
<rect x="149" y="662" width="1" height="25" fill="#C0C0C0"/>
<rect x="157" y="662" width="1" height="22" fill="#C0C0C0"/>
<rect x="165" y="662" width="1" height="18" fill="#C0C0C0"/>
<rect x="173" y="662" width="1" height="21" fill="#C0C0C0"/>
<rect x="181" y="662" width="1" height="21" fill="#C0C0C0"/>
<rect x="189" y="662" width="1" height="22" fill="#C0C0C0"/>
<rect x="197" y="662" width="1" height="22" fill="#C0C0C0"/>
<rect x="205" y="662" width="1" height="26" fill="#C0C0C0"/>
<rect x="213" y="662" width="1" height="32" fill="#C0C0C0"/>
<rect x="221" y="662" width="1" height="40" fill="#C0C0C0"/>
<rect x="229" y="662" width="1" height="45" fill="#C0C0C0"/>
<rect x="237" y="662" width="1" height="47" fill="#C0C0C0"/>
<rect x="245" y="662" width="1" height="47" fill="#C0C0C0"/>
<rect x="253" y="662" width="1" height="45" fill="#C0C0C0"/>
<rect x="261" y="662" width="1" height="40" fill="#C0C0C0"/>
<rect x="269" y="662" width="1" height="35" fill="#C0C0C0"/>
<rect x="277" y="662" width="1" height="33" fill="#C0C0C0"/>
<rect x="285" y="662" width="1" height="32" fill="#C0C0C0"/>
<rect x="293" y="662" width="1" height="30" fill="#C0C0C0"/>
<rect x="301" y="662" width="1" height="32" fill="#C0C0C0"/>
<rect x="309" y="662" width="1" height="37" fill="#C0C0C0"/>
<rect x="317" y="662" width="1" height="42" fill="#C0C0C0"/>
<rect x="325" y="662" width="1" height="46" fill="#C0C0C0"/>
<rect x="333" y="662" width="1" height="48" fill="#C0C0C0"/>
<rect x="341" y="662" width="1" height="51" fill="#C0C0C0"/>
<rect x="349" y="662" width="1" height="53" fill="#C0C0C0"/>
<rect x="357" y="662" width="1" height="56" fill="#C0C0C0"/>
<rect x="365" y="662" width="1" height="59" fill="#C0C0C0"/>
<rect x="373" y="662" width="1" height="61" fill="#C0C0C0"/>
<rect x="381" y="662" width="1" height="61" fill="#C0C0C0"/>
<rect x="389" y="662" width="1" height="60" fill="#C0C0C0"/>
<rect x="397" y="662" width="1" height="58" fill="#C0C0C0"/>
<rect x="405" y="662" width="1" height="50" fill="#C0C0C0"/>
<rect x="413" y="662" width="1" height="40" fill="#C0C0C0"/>
<rect x="421" y="662" width="1" height="31" fill="#C0C0C0"/>
<rect x="429" y="662" width="1" height="19" fill="#C0C0C0"/>
<rect x="437" y="662" width="1" height="14" fill="#C0C0C0"/>
<rect x="445" y="662" width="1" height="12" fill="#C0C0C0"/>
<rect x="453" y="662" width="1" height="1" fill="#C0C0C0"/>
<rect x="461" y="657" width="1" height="6" fill="#C0C0C0"/>
<rect x="469" y="652" width="1" height="11" fill="#C0C0C0"/>
<rect x="477" y="645" width="1" height="18" fill="#C0C0C0"/>
<rect x="485" y="643" width="1" height="20" fill="#C0C0C0"/>
<rect x="493" y="641" width="1" height="22" fill="#C0C0C0"/>
<rect x="501" y="628" width="1" height="35" fill="#C0C0C0"/>
<rect x="509" y="619" width="1" height="44" fill="#C0C0C0"/>
<rect x="517" y="612" width="1" height="51" fill="#C0C0C0"/>
<rect x="525" y="608" width="1" height="55" fill="#C0C0C0"/>
<rect x="533" y="606" width="1" height="57" fill="#C0C0C0"/>
<rect x="541" y="607" width="1" height="56" fill="#C0C0C0"/>
<rect x="549" y="605" width="1" height="58" fill="#C0C0C0"/>
<rect x="557" y="602" width="1" height="61" fill="#C0C0C0"/>
<rect x="565" y="601" width="1" height="62" fill="#C0C0C0"/>
<rect x="573" y="600" width="1" height="63" fill="#C0C0C0"/>
<rect x="581" y="598" width="1" height="65" fill="#C0C0C0"/>
<rect x="589" y="596" width="1" height="67" fill="#C0C0C0"/>
<rect x="597" y="594" width="1" height="69" fill="#C0C0C0"/>
<rect x="605" y="592" width="1" height="71" fill="#C0C0C0"/>
<rect x="613" y="592" width="1" height="71" fill="#C0C0C0"/>
<rect x="621" y="591" width="1" height="72" fill="#C0C0C0"/>
<rect x="629" y="588" width="1" height="75" fill="#C0C0C0"/>
<rect x="637" y="588" width="1" height="75" fill="#C0C0C0"/>
<rect x="645" y="595" width="1" height="68" fill="#C0C0C0"/>
<rect x="653" y="602" width="1" height="61" fill="#C0C0C0"/>
<rect x="661" y="609" width="1" height="54" fill="#C0C0C0"/>
<rect x="669" y="615" width="1" height="48" fill="#C0C0C0"/>
<rect x="677" y="620" width="1" height="43" fill="#C0C0C0"/>
<rect x="685" y="624" width="1" height="39" fill="#C0C0C0"/>
<rect x="693" y="628" width="1" height="35" fill="#C0C0C0"/>
<rect x="701" y="631" width="1" height="32" fill="#C0C0C0"/>
<rect x="709" y="634" width="1" height="29" fill="#C0C0C0"/>
<rect x="717" y="637" width="1" height="26" fill="#C0C0C0"/>
<rect x="725" y="641" width="1" height="22" fill="#C0C0C0"/>
<rect x="733" y="647" width="1" height="16" fill="#C0C0C0"/>
<rect x="741" y="662" width="1" height="1" fill="#C0C0C0"/>
<rect x="749" y="662" width="1" height="16" fill="#C0C0C0"/>
<rect x="757" y="662" width="1" height="28" fill="#C0C0C0"/>
<rect x="765" y="662" width="1" height="42" fill="#C0C0C0"/>
<rect x="773" y="662" width="1" height="52" fill="#C0C0C0"/>
<rect x="781" y="662" width="1" height="60" fill="#C0C0C0"/>
<rect x="789" y="662" width="1" height="68" fill="#C0C0C0"/>
<rect x="797" y="662" width="1" height="75" fill="#C0C0C0"/>
<rect x="805" y="662" width="1" height="78" fill="#C0C0C0"/>
<rect x="813" y="662" width="1" height="79" fill="#C0C0C0"/>
<rect x="821" y="662" width="1" height="78" fill="#C0C0C0"/>
<rect x="829" y="662" width="1" height="78" fill="#C0C0C0"/>
<rect x="837" y="662" width="1" height="69" fill="#C0C0C0"/>
<rect x="845" y="662" width="1" height="62" fill="#C0C0C0"/>
<rect x="853" y="662" width="1" height="57" fill="#C0C0C0"/>
<rect x="861" y="662" width="1" height="50" fill="#C0C0C0"/>
<rect x="869" y="662" width="1" height="45" fill="#C0C0C0"/>
<rect x="877" y="662" width="1" height="37" fill="#C0C0C0"/>
<rect x="885" y="662" width="1" height="26" fill="#C0C0C0"/>
<rect x="893" y="662" width="1" height="21" fill="#C0C0C0"/>
<rect x="901" y="662" width="1" height="15" fill="#C0C0C0"/>
<rect x="909" y="662" width="1" height="3" fill="#C0C0C0"/>
<rect x="917" y="662" width="1" height="2" fill="#C0C0C0"/>
<rect x="925" y="662" width="1" height="5" fill="#C0C0C0"/>
<rect x="933" y="662" width="1" height="5" fill="#C0C0C0"/>
<rect x="941" y="662" width="1" height="4" fill="#C0C0C0"/>
<rect x="949" y="662" width="1" height="3" fill="#C0C0C0"/>
<rect x="957" y="662" width="1" height="4" fill="#C0C0C0"/>
<rect x="965" y="662" width="1" height="5" fill="#C0C0C0"/>
<rect x="973" y="662" width="1" height="5" fill="#C0C0C0"/>
<rect x="981" y="662" width="1" height="4" fill="#C0C0C0"/>
<rect x="989" y="662" width="1" height="3" fill="#C0C0C0"/>
<rect x="997" y="662" width="1" height="2" fill="#C0C0C0"/>
<rect x="1005" y="660" width="1" height="3" fill="#C0C0C0"/>
<rect x="1013" y="657" width="1" height="6" fill="#C0C0C0"/>
<rect x="1021" y="650" width="1" height="13" fill="#C0C0C0"/>
<rect x="1029" y="652" width="1" height="11" fill="#C0C0C0"/>
<rect x="1037" y="657" width="1" height="6" fill="#C0C0C0"/>
<rect x="1045" y="661" width="1" height="2" fill="#C0C0C0"/>
<rect x="1053" y="662" width="1" height="1" fill="#C0C0C0"/>
<rect x="1061" y="662" width="1" height="1" fill="#C0C0C0"/>
<rect x="1069" y="662" width="1" height="3" fill="#C0C0C0"/>
<rect x="1077" y="662" width="1" height="4" fill="#C0C0C0"/>
<rect x="1085" y="662" width="1" height="5" fill="#C0C0C0"/>
<rect x="1093" y="662" width="1" height="5" fill="#C0C0C0"/>
<rect x="1101" y="662" width="1" height="4" fill="#C0C0C0"/>
<rect x="1109" y="662" width="1" height="3" fill="#C0C0C0"/>
<rect x="1117" y="662" width="1" height="2" fill="#C0C0C0"/>
<rect x="1125" y="656" width="1" height="7" fill="#C0C0C0"/>
<rect x="1133" y="653" width="1" height="10" fill="#C0C0C0"/>
<rect x="1141" y="650" width="1" height="13" fill="#C0C0C0"/>
<rect x="1149" y="649" width="1" height="14" fill="#C0C0C0"/>
<rect x="1157" y="644" width="1" height="19" fill="#C0C0C0"/>
<rect x="1165" y="640" width="1" height="23" fill="#C0C0C0"/>
<rect x="1173" y="639" width="1" height="24" fill="#C0C0C0"/>
<rect x="1181" y="639" width="1" height="24" fill="#C0C0C0"/>
<rect x="1189" y="639" width="1" height="24" fill="#C0C0C0"/>
<rect x="1197" y="643" width="1" height="20" fill="#C0C0C0"/>
<rect x="1205" y="641" width="1" height="22" fill="#C0C0C0"/>
<rect x="1213" y="639" width="1" height="24" fill="#C0C0C0"/>
<rect x="1221" y="645" width="1" height="18" fill="#C0C0C0"/>
<rect x="1229" y="650" width="1" height="13" fill="#C0C0C0"/>
<rect x="1237" y="653" width="1" height="10" fill="#C0C0C0"/>
<rect x="1245" y="659" width="1" height="4" fill="#C0C0C0"/>
<rect x="1253" y="662" width="1" height="1" fill="#C0C0C0"/>
<rect x="1261" y="662" width="1" height="1" fill="#C0C0C0"/>
<rect x="1269" y="662" width="1" height="1" fill="#C0C0C0"/>
<rect x="1277" y="662" width="1" height="2" fill="#C0C0C0"/>
<rect x="1285" y="662" width="1" height="1" fill="#C0C0C0"/>
<rect x="1293" y="662" width="1" height="1" fill="#C0C0C0"/>
<rect x="1301" y="662" width="1" height="2" fill="#C0C0C0"/>
<rect x="1309" y="662" width="1" height="3" fill="#C0C0C0"/>
<rect x="1317" y="661" width="1" height="2" fill="#C0C0C0"/>
<rect x="1325" y="659" width="1" height="4" fill="#C0C0C0"/>
<rect x="1333" y="656" width="1" height="7" fill="#C0C0C0"/>
<rect x="1341" y="651" width="1" height="12" fill="#C0C0C0"/>
<rect x="1349" y="643" width="1" height="20" fill="#C0C0C0"/>
<rect x="1357" y="637" width="1" height="26" fill="#C0C0C0"/>
<rect x="1365" y="640" width="1" height="23" fill="#C0C0C0"/>
<rect x="1373" y="643" width="1" height="20" fill="#C0C0C0"/>
<rect x="1381" y="644" width="1" height="19" fill="#C0C0C0"/>
<rect x="1389" y="646" width="1" height="17" fill="#C0C0C0"/>
<rect x="1397" y="649" width="1" height="14" fill="#C0C0C0"/>
<rect x="1405" y="652" width="1" height="11" fill="#C0C0C0"/>
<rect x="1413" y="654" width="1" height="9" fill="#C0C0C0"/>
<rect x="1421" y="657" width="1" height="6" fill="#C0C0C0"/>
<rect x="1429" y="659" width="1" height="4" fill="#C0C0C0"/>
<rect x="1437" y="662" width="1" height="1" fill="#C0C0C0"/>
<polyline points="0.5,644.5 15.4,640.5 37.7,634.5 50.1,631.5 65.0,629.5 84.8,629.5 99.7,634.5 114.6,640.5 129.4,650.5 144.3,660.5 159.2,671.5 174.1,680.5 193.9,685.5 218.7,686.5 233.6,691.5 248.5,697.5 263.3,701.5 280.7,702.5 298.1,700.5 312.9,698.5 330.3,699.5 347.6,703.5 362.5,708.5 377.4,714.5 389.8,718.5 404.7,719.5 410.5,717.5 435.3,707.5 460.1,688.5 484.9,665.5 502.2,652.5 524.6,634.5 541.9,621.5 564.2,609.5 584.1,603.5 613.8,598.5 633.7,593.5 660.9,592.5 683.3,602.5 708.1,615.5 732.9,631.5 750.2,642.5 772.5,667.5 789.9,687.5 807.2,709.5 820.5,722.5 832.9,732.5 850.3,734.5 865.1,730.5 882.5,721.5 899.8,707.5 919.7,691.5 937.0,677.5 954.4,669.5 974.2,666.5 994.1,666.5 1018.9,662.5 1043.7,659.5 1063.5,657.5 1083.3,659.5 1098.2,664.5 1118.0,664.5 1137.9,662.5 1155.2,658.5 1175.1,650.5 1197.4,644.5 1217.2,640.5 1230.5,641.5 1245.4,644.5 1260.3,649.5 1280.1,655.5 1295.0,660.5 1309.8,662.5 1329.7,662.5 1344.6,659.5 1359.4,654.5 1374.3,650.5 1389.2,646.5 1404.1,644.5 1419.0,645.5 1437.5,648.5" fill="none" stroke="#FF0000" stroke-width="1" stroke-dasharray="3,3"/>
</g>
<polyline points="1393,647 1432,651" fill="none" stroke="#FF0000" stroke-width="4"/>
<polygon points="1441,652 1429.7,654.9 1430.5,646.9" fill="#FF0000"/>
<g clip-path="url(#crsi)">
<line x1="0" y1="786.5" x2="1647" y2="786.5" stroke="#C0C0C0" stroke-width="1" stroke-dasharray="3,3" stroke-dashoffset="-2" shape-rendering="crispEdges"/>
<line x1="0" y1="837.5" x2="1647" y2="837.5" stroke="#C0C0C0" stroke-width="1" stroke-dasharray="3,3" stroke-dashoffset="-2" shape-rendering="crispEdges"/>
<line x1="0" y1="898.5" x2="1647" y2="898.5" stroke="#C0C0C0" stroke-width="1" stroke-dasharray="3,3" stroke-dashoffset="-2" shape-rendering="crispEdges"/>
<polyline points="0.5,821.5 5.5,819.5 13.5,810.5 21.5,811.5 29.5,810.5 37.5,810.5 45.5,829.5 53.5,837.5 61.5,832.5 69.5,831.5 77.5,827.5 85.5,832.5 93.5,839.5 101.5,848.5 109.5,844.5 117.5,868.5 125.5,864.5 133.5,857.5 141.5,858.5 149.5,846.5 157.5,838.5 165.5,840.5 173.5,850.5 181.5,848.5 189.5,853.5 197.5,849.5 205.5,849.5 213.5,864.5 221.5,868.5 229.5,870.5 237.5,860.5 245.5,860.5 253.5,849.5 261.5,846.5 269.5,842.5 277.5,846.5 285.5,848.5 293.5,847.5 301.5,857.5 309.5,872.5 317.5,865.5 325.5,866.5 333.5,867.5 341.5,869.5 349.5,871.5 357.5,874.5 365.5,877.5 373.5,879.5 381.5,873.5 389.5,866.5 397.5,870.5 405.5,836.5 413.5,833.5 421.5,829.5 429.5,821.5 437.5,829.5 445.5,838.5 453.5,821.5 461.5,821.5 469.5,821.5 477.5,816.5 485.5,826.5 493.5,822.5 501.5,804.5 509.5,805.5 517.5,804.5 525.5,808.5 533.5,811.5 541.5,817.5 549.5,810.5 557.5,808.5 565.5,808.5 573.5,808.5 581.5,802.5 589.5,800.5 597.5,798.5 605.5,797.5 613.5,796.5 621.5,794.5 629.5,790.5 637.5,795.5 645.5,821.5 653.5,826.5 661.5,829.5 669.5,831.5 677.5,828.5 685.5,824.5 693.5,831.5 701.5,828.5 709.5,828.5 717.5,828.5 725.5,840.5 733.5,846.5 741.5,874.5 749.5,880.5 757.5,876.5 765.5,884.5 773.5,881.5 781.5,883.5 789.5,885.5 797.5,886.5 805.5,879.5 813.5,879.5 821.5,876.5 829.5,878.5 837.5,848.5 845.5,850.5 853.5,852.5 861.5,844.5 869.5,846.5 877.5,834.5 885.5,824.5 893.5,835.5 901.5,831.5 909.5,814.5 917.5,837.5 925.5,846.5 933.5,838.5 941.5,836.5 949.5,837.5 957.5,838.5 965.5,845.5 973.5,840.5 981.5,836.5 989.5,834.5 997.5,833.5 1005.5,831.5 1013.5,829.5 1021.5,816.5 1029.5,840.5 1037.5,844.5 1045.5,844.5 1053.5,840.5 1061.5,838.5 1069.5,842.5 1077.5,844.5 1085.5,846.5 1093.5,840.5 1101.5,836.5 1109.5,838.5 1117.5,829.5 1125.5,820.5 1133.5,823.5 1141.5,824.5 1149.5,828.5 1157.5,814.5 1165.5,818.5 1173.5,822.5 1181.5,827.5 1189.5,825.5 1197.5,832.5 1205.5,822.5 1213.5,821.5 1221.5,844.5 1229.5,846.5 1237.5,842.5 1245.5,849.5 1253.5,845.5 1261.5,840.5 1269.5,837.5 1277.5,839.5 1285.5,835.5 1293.5,840.5 1301.5,845.5 1309.5,841.5 1317.5,825.5 1325.5,829.5 1333.5,825.5 1341.5,817.5 1349.5,805.5 1357.5,809.5 1365.5,836.5 1373.5,837.5 1381.5,832.5 1389.5,837.5 1397.5,838.5 1405.5,839.5 1413.5,838.5 1421.5,843.5 1429.5,844.5 1437.5,843.5" fill="none" stroke="#1E90FF" stroke-width="1" shape-rendering="crispEdges"/>
</g>
<line x1="1371" y1="839.5" x2="1442" y2="840.5" stroke="#FF0000" stroke-width="3"/>
<polygon points="1451,840.5 1441.0,844.4 1441.1,836.4" fill="#FF0000"/>
<g shape-rendering="crispEdges">
<rect x="0" y="23" width="1648" height="1" fill="#000"/>
<rect x="1647" y="23" width="1" height="554" fill="#000"/>
<rect x="1647" y="578" width="1" height="171" fill="#000"/>
<rect x="1647" y="750" width="1" height="175" fill="#000"/>
<rect x="0" y="576" width="1648" height="1" fill="#000"/>
<rect x="0" y="578" width="1648" height="1" fill="#000"/>
<rect x="0" y="748" width="1648" height="1" fill="#000"/>
<rect x="0" y="750" width="1648" height="1" fill="#000"/>
<rect x="0" y="924" width="1648" height="1" fill="#000"/>
</g>
<g shape-rendering="crispEdges">
<rect x="1648" y="44" width="2" height="1" fill="#000"/>
<rect x="1648" y="77" width="2" height="1" fill="#000"/>
<rect x="1648" y="110" width="2" height="1" fill="#000"/>
<rect x="1648" y="143" width="2" height="1" fill="#000"/>
<rect x="1648" y="176" width="2" height="1" fill="#000"/>
<rect x="1648" y="210" width="2" height="1" fill="#000"/>
<rect x="1648" y="243" width="2" height="1" fill="#000"/>
<rect x="1648" y="276" width="2" height="1" fill="#000"/>
<rect x="1648" y="309" width="2" height="1" fill="#000"/>
<rect x="1648" y="342" width="2" height="1" fill="#000"/>
<rect x="1648" y="375" width="2" height="1" fill="#000"/>
<rect x="1648" y="408" width="2" height="1" fill="#000"/>
<rect x="1648" y="441" width="2" height="1" fill="#000"/>
<rect x="1648" y="474" width="2" height="1" fill="#000"/>
<rect x="1648" y="507" width="2" height="1" fill="#000"/>
<rect x="1648" y="540" width="2" height="1" fill="#000"/>
<rect x="1648" y="573" width="2" height="1" fill="#000"/>
</g>
<text x="1653.5" y="48.3" font-family="Liberation Sans, sans-serif" font-size="9.7" fill="#000" xml:space="preserve" textLength="32" lengthAdjust="spacingAndGlyphs">110.830</text>
<text x="1653.5" y="81.3" font-family="Liberation Sans, sans-serif" font-size="9.7" fill="#000" xml:space="preserve" textLength="32" lengthAdjust="spacingAndGlyphs">110.695</text>
<text x="1653.5" y="114.3" font-family="Liberation Sans, sans-serif" font-size="9.7" fill="#000" xml:space="preserve" textLength="32" lengthAdjust="spacingAndGlyphs">110.560</text>
<text x="1653.5" y="147.3" font-family="Liberation Sans, sans-serif" font-size="9.7" fill="#000" xml:space="preserve" textLength="32" lengthAdjust="spacingAndGlyphs">110.425</text>
<text x="1653.5" y="180.3" font-family="Liberation Sans, sans-serif" font-size="9.7" fill="#000" xml:space="preserve" textLength="32" lengthAdjust="spacingAndGlyphs">110.290</text>
<text x="1653.5" y="214.3" font-family="Liberation Sans, sans-serif" font-size="9.7" fill="#000" xml:space="preserve" textLength="32" lengthAdjust="spacingAndGlyphs">110.160</text>
<text x="1653.5" y="247.3" font-family="Liberation Sans, sans-serif" font-size="9.7" fill="#000" xml:space="preserve" textLength="32" lengthAdjust="spacingAndGlyphs">110.020</text>
<text x="1653.5" y="280.3" font-family="Liberation Sans, sans-serif" font-size="9.7" fill="#000" xml:space="preserve" textLength="32" lengthAdjust="spacingAndGlyphs">109.890</text>
<text x="1653.5" y="313.3" font-family="Liberation Sans, sans-serif" font-size="9.7" fill="#000" xml:space="preserve" textLength="32" lengthAdjust="spacingAndGlyphs">109.750</text>
<text x="1653.5" y="346.3" font-family="Liberation Sans, sans-serif" font-size="9.7" fill="#000" xml:space="preserve" textLength="32" lengthAdjust="spacingAndGlyphs">109.615</text>
<text x="1653.5" y="379.3" font-family="Liberation Sans, sans-serif" font-size="9.7" fill="#000" xml:space="preserve" textLength="32" lengthAdjust="spacingAndGlyphs">109.480</text>
<text x="1653.5" y="412.3" font-family="Liberation Sans, sans-serif" font-size="9.7" fill="#000" xml:space="preserve" textLength="32" lengthAdjust="spacingAndGlyphs">109.345</text>
<text x="1653.5" y="445.3" font-family="Liberation Sans, sans-serif" font-size="9.7" fill="#000" xml:space="preserve" textLength="32" lengthAdjust="spacingAndGlyphs">109.210</text>
<text x="1653.5" y="478.3" font-family="Liberation Sans, sans-serif" font-size="9.7" fill="#000" xml:space="preserve" textLength="32" lengthAdjust="spacingAndGlyphs">109.075</text>
<text x="1653.5" y="511.3" font-family="Liberation Sans, sans-serif" font-size="9.7" fill="#000" xml:space="preserve" textLength="32" lengthAdjust="spacingAndGlyphs">108.940</text>
<text x="1653.5" y="544.3" font-family="Liberation Sans, sans-serif" font-size="9.7" fill="#000" xml:space="preserve" textLength="32" lengthAdjust="spacingAndGlyphs">108.805</text>
<text x="1653.5" y="577.3" font-family="Liberation Sans, sans-serif" font-size="9.7" fill="#000" xml:space="preserve" textLength="32" lengthAdjust="spacingAndGlyphs">108.670</text>
<rect x="1648" y="580" width="2" height="1" fill="#000"/>
<rect x="1648" y="662" width="2" height="1" fill="#000"/>
<rect x="1648" y="747" width="2" height="1" fill="#000"/>
<rect x="1648" y="752" width="2" height="1" fill="#000"/>
<text x="1651" y="589" font-family="Liberation Sans, sans-serif" font-size="9.7" fill="#000" xml:space="preserve" textLength="27.3" lengthAdjust="spacingAndGlyphs">0.2841</text>
<text x="1651" y="666" font-family="Liberation Sans, sans-serif" font-size="9.7" fill="#000" xml:space="preserve" textLength="18.5" lengthAdjust="spacingAndGlyphs">0.00</text>
<text x="1651" y="745" font-family="Liberation Sans, sans-serif" font-size="9.7" fill="#000" xml:space="preserve" textLength="30.7" lengthAdjust="spacingAndGlyphs">-0.2949</text>
<text x="1651.4" y="761" font-family="Liberation Sans, sans-serif" font-size="9.7" fill="#000" xml:space="preserve" textLength="14.3" lengthAdjust="spacingAndGlyphs">100</text>
<text x="1650" y="790" font-family="Liberation Sans, sans-serif" font-size="9.7" fill="#000" xml:space="preserve" textLength="10" lengthAdjust="spacingAndGlyphs">80</text>
<text x="1650" y="841" font-family="Liberation Sans, sans-serif" font-size="9.7" fill="#000" xml:space="preserve" textLength="10" lengthAdjust="spacingAndGlyphs">50</text>
<text x="1650" y="901.5" font-family="Liberation Sans, sans-serif" font-size="9.7" fill="#000" xml:space="preserve" textLength="10" lengthAdjust="spacingAndGlyphs">15</text>
<text x="1650.5" y="920.5" font-family="Liberation Sans, sans-serif" font-size="9.7" fill="#000" xml:space="preserve" textLength="5" lengthAdjust="spacingAndGlyphs">0</text>
<rect x="1648" y="203" width="42" height="11" fill="#FF0000"/>
<text x="1652.5" y="212.2" font-family="Liberation Sans, sans-serif" font-size="9.7" fill="#fff" xml:space="preserve" textLength="33" lengthAdjust="spacingAndGlyphs">110.160</text>
<rect x="1648" y="231" width="42" height="11" fill="#FF0000"/>
<text x="1652.5" y="240.2" font-family="Liberation Sans, sans-serif" font-size="9.7" fill="#fff" xml:space="preserve" textLength="33" lengthAdjust="spacingAndGlyphs">110.046</text>
<rect x="1648" y="259" width="42" height="11" fill="#000000"/>
<text x="1652.5" y="268.2" font-family="Liberation Sans, sans-serif" font-size="9.7" fill="#fff" xml:space="preserve" textLength="33" lengthAdjust="spacingAndGlyphs">109.934</text>
<rect x="1648" y="269" width="42" height="11" fill="#32CD32"/>
<text x="1652.5" y="278.2" font-family="Liberation Sans, sans-serif" font-size="9.7" fill="#fff" xml:space="preserve" textLength="33" lengthAdjust="spacingAndGlyphs">109.891</text>
<rect x="1648" y="287" width="42" height="11" fill="#0000FF"/>
<text x="1652.5" y="296.2" font-family="Liberation Sans, sans-serif" font-size="9.7" fill="#fff" xml:space="preserve" textLength="33" lengthAdjust="spacingAndGlyphs">109.818</text>
<rect x="1648" y="310" width="42" height="11" fill="#0000FF"/>
<text x="1652.5" y="319.2" font-family="Liberation Sans, sans-serif" font-size="9.7" fill="#fff" xml:space="preserve" textLength="33" lengthAdjust="spacingAndGlyphs">109.724</text>
<rect x="1642.5" y="206.5" width="4" height="4" fill="#fff" stroke="#FF0000" stroke-width="1" shape-rendering="crispEdges"/>
<rect x="1642.5" y="234.5" width="4" height="4" fill="#fff" stroke="#FF0000" stroke-width="1" shape-rendering="crispEdges"/>
<rect x="1642.5" y="290.5" width="4" height="4" fill="#fff" stroke="#0000FF" stroke-width="1" shape-rendering="crispEdges"/>
<rect x="1642.5" y="313.5" width="4" height="4" fill="#fff" stroke="#0000FF" stroke-width="1" shape-rendering="crispEdges"/>
<polygon points="1441,24 1452,24 1446.5,29" fill="#B4B4B4"/>
<g shape-rendering="crispEdges">
<rect x="53" y="925" width="1" height="4" fill="#000"/>
<rect x="117" y="925" width="1" height="4" fill="#000"/>
<rect x="181" y="925" width="1" height="4" fill="#000"/>
<rect x="245" y="925" width="1" height="4" fill="#000"/>
<rect x="309" y="925" width="1" height="4" fill="#000"/>
<rect x="373" y="925" width="1" height="4" fill="#000"/>
<rect x="437" y="925" width="1" height="4" fill="#000"/>
<rect x="501" y="925" width="1" height="4" fill="#000"/>
<rect x="565" y="925" width="1" height="4" fill="#000"/>
<rect x="629" y="925" width="1" height="4" fill="#000"/>
<rect x="693" y="925" width="1" height="4" fill="#000"/>
<rect x="757" y="925" width="1" height="4" fill="#000"/>
<rect x="821" y="925" width="1" height="4" fill="#000"/>
<rect x="885" y="925" width="1" height="4" fill="#000"/>
<rect x="949" y="925" width="1" height="4" fill="#000"/>
<rect x="1013" y="925" width="1" height="4" fill="#000"/>
<rect x="1077" y="925" width="1" height="4" fill="#000"/>
<rect x="1141" y="925" width="1" height="4" fill="#000"/>
<rect x="1205" y="925" width="1" height="4" fill="#000"/>
<rect x="1269" y="925" width="1" height="4" fill="#000"/>
<rect x="1333" y="925" width="1" height="4" fill="#000"/>
<rect x="1397" y="925" width="1" height="4" fill="#000"/>
</g>
<text x="1.5" y="937" font-family="Liberation Sans, sans-serif" font-size="10" fill="#000" xml:space="preserve" textLength="39.1" lengthAdjust="spacingAndGlyphs">Jul 2021</text>
<text x="53.3" y="937" font-family="Liberation Sans, sans-serif" font-size="10" fill="#000" xml:space="preserve" textLength="54.2" lengthAdjust="spacingAndGlyphs">26 Jul 04:00</text>
<text x="117.3" y="937" font-family="Liberation Sans, sans-serif" font-size="10" fill="#000" xml:space="preserve" textLength="54.2" lengthAdjust="spacingAndGlyphs">27 Jul 12:00</text>
<text x="181.3" y="937" font-family="Liberation Sans, sans-serif" font-size="10" fill="#000" xml:space="preserve" textLength="54.2" lengthAdjust="spacingAndGlyphs">28 Jul 20:00</text>
<text x="245.3" y="937" font-family="Liberation Sans, sans-serif" font-size="10" fill="#000" xml:space="preserve" textLength="54.2" lengthAdjust="spacingAndGlyphs">30 Jul 04:00</text>
<text x="309.3" y="937" font-family="Liberation Sans, sans-serif" font-size="10" fill="#000" xml:space="preserve" textLength="49.2" lengthAdjust="spacingAndGlyphs">2 Aug 12:00</text>
<text x="373.3" y="937" font-family="Liberation Sans, sans-serif" font-size="10" fill="#000" xml:space="preserve" textLength="49.2" lengthAdjust="spacingAndGlyphs">3 Aug 20:00</text>
<text x="437.3" y="937" font-family="Liberation Sans, sans-serif" font-size="10" fill="#000" xml:space="preserve" textLength="49.2" lengthAdjust="spacingAndGlyphs">5 Aug 04:00</text>
<text x="501.3" y="937" font-family="Liberation Sans, sans-serif" font-size="10" fill="#000" xml:space="preserve" textLength="49.2" lengthAdjust="spacingAndGlyphs">6 Aug 12:00</text>
<text x="565.3" y="937" font-family="Liberation Sans, sans-serif" font-size="10" fill="#000" xml:space="preserve" textLength="49.2" lengthAdjust="spacingAndGlyphs">9 Aug 20:00</text>
<text x="629.3" y="937" font-family="Liberation Sans, sans-serif" font-size="10" fill="#000" xml:space="preserve" textLength="54.2" lengthAdjust="spacingAndGlyphs">11 Aug 04:00</text>
<text x="693.3" y="937" font-family="Liberation Sans, sans-serif" font-size="10" fill="#000" xml:space="preserve" textLength="54.2" lengthAdjust="spacingAndGlyphs">12 Aug 12:00</text>
<text x="757.3" y="937" font-family="Liberation Sans, sans-serif" font-size="10" fill="#000" xml:space="preserve" textLength="54.2" lengthAdjust="spacingAndGlyphs">15 Aug 23:00</text>
<text x="821.3" y="937" font-family="Liberation Sans, sans-serif" font-size="10" fill="#000" xml:space="preserve" textLength="54.2" lengthAdjust="spacingAndGlyphs">17 Aug 04:00</text>
<text x="885.3" y="937" font-family="Liberation Sans, sans-serif" font-size="10" fill="#000" xml:space="preserve" textLength="54.2" lengthAdjust="spacingAndGlyphs">18 Aug 12:00</text>
<text x="949.3" y="937" font-family="Liberation Sans, sans-serif" font-size="10" fill="#000" xml:space="preserve" textLength="54.2" lengthAdjust="spacingAndGlyphs">19 Aug 20:00</text>
<text x="1013.3" y="937" font-family="Liberation Sans, sans-serif" font-size="10" fill="#000" xml:space="preserve" textLength="54.2" lengthAdjust="spacingAndGlyphs">23 Aug 04:00</text>
<text x="1077.3" y="937" font-family="Liberation Sans, sans-serif" font-size="10" fill="#000" xml:space="preserve" textLength="54.2" lengthAdjust="spacingAndGlyphs">24 Aug 12:00</text>
<text x="1141.3" y="937" font-family="Liberation Sans, sans-serif" font-size="10" fill="#000" xml:space="preserve" textLength="54.2" lengthAdjust="spacingAndGlyphs">25 Aug 20:00</text>
<text x="1205.3" y="937" font-family="Liberation Sans, sans-serif" font-size="10" fill="#000" xml:space="preserve" textLength="54.2" lengthAdjust="spacingAndGlyphs">27 Aug 04:00</text>
<text x="1269.3" y="937" font-family="Liberation Sans, sans-serif" font-size="10" fill="#000" xml:space="preserve" textLength="54.2" lengthAdjust="spacingAndGlyphs">30 Aug 12:00</text>
<text x="1333.3" y="937" font-family="Liberation Sans, sans-serif" font-size="10" fill="#000" xml:space="preserve" textLength="54.2" lengthAdjust="spacingAndGlyphs">31 Aug 20:00</text>
<text x="1397.3" y="937" font-family="Liberation Sans, sans-serif" font-size="10" fill="#000" xml:space="preserve" textLength="49.2" lengthAdjust="spacingAndGlyphs">2 Sep 04:00</text>
<text x="4.5" y="35" font-family="Liberation Sans, sans-serif" font-size="10" fill="#000" xml:space="preserve" textLength="200" lengthAdjust="spacingAndGlyphs">USDJPY-,H4  109.922 109.937 109.921 109.934</text>
<rect x="0" y="584" width="1" height="7" fill="#4AB0F0"/>
<text x="1.5" y="591" font-family="Liberation Sans, sans-serif" font-size="10" fill="#000" xml:space="preserve" textLength="119" lengthAdjust="spacingAndGlyphs">ACD(12,26,9) 0.0048 0.0373</text>
<text x="-0.5" y="763.5" font-family="Liberation Sans, sans-serif" font-size="10" fill="#000" xml:space="preserve" textLength="61" lengthAdjust="spacingAndGlyphs">SI(14) 46.9738</text>
<g shape-rendering="geometricPrecision">
<rect x="0" y="12" width="2" height="4" fill="#D8A040"/>
<rect x="8" y="0" width="1" height="17" fill="#A0A0A0"/><rect x="9" y="0" width="1" height="17" fill="#FFFFFF"/>
<path d="M18.5,-1 H26 L29.5,2.5 V11.5 H18.5 Z" fill="#FFF" stroke="#6A6A6A" stroke-width="1"/>
<rect x="20" y="3" width="5" height="1" fill="#888"/><rect x="20" y="6" width="6" height="1" fill="#888"/><rect x="20" y="8" width="3" height="1" fill="#888"/>
<path d="M26,5.5 H30 V9.5 H34 V13.5 H30 V17.5 H26 V13.5 H22 V9.5 H26 Z" fill="#33DD33" stroke="#119911" stroke-width="1"/>
<g stroke="#000" stroke-width="1" fill="none" shape-rendering="crispEdges"><path d="M37,1.5 H43 M38,4.5 H43 M37,6.5 H43 M40.5,4 V11 M40,8 L37.5,10.5 M41,8 L43,10 M38.5,2.5 L39,3.5 M42,2.5 L41.5,3.5"/><path d="M48.5,0.5 L45,2 M45,2 V7 L44,10.5 M45,4.5 H49.5 M47.5,4.5 V11"/><path d="M50.5,1 L52,2.5 M50,4.5 H51.5 V9.5 L53,8 M53,1.5 H59.5 M57,1.5 V10.5 L55.5,10.5"/><path d="M62.5,2.5 H71.5 V6.5 H62.5 Z M62.5,4.5 H71.5 M61,8.5 H73 M67,2 V11 M64,0 L65,1.5 M70,0 L69,1.5"/></g>
<defs><linearGradient id="gbook" x1="0" y1="0" x2="1" y2="1"><stop offset="0" stop-color="#FFF0A0"/><stop offset="0.5" stop-color="#E8C040"/><stop offset="1" stop-color="#C89020"/></linearGradient><linearGradient id="gcloud" x1="0" y1="0" x2="0" y2="1"><stop offset="0" stop-color="#FFFFFF"/><stop offset="1" stop-color="#C8D4E8"/></linearGradient></defs>
<polygon points="85.8,9.6 91,0 100.8,8.1 95,14.8" fill="#A8701C"/>
<polygon points="85.8,9.1 91,0 100,6.8 93.5,13" fill="url(#gbook)" stroke="#B88420" stroke-width="0.8"/>
<rect x="115.5" y="-1" width="11" height="9.5" fill="#1E8EF0" stroke="#1060C0" stroke-width="0.8"/>
<rect x="117" y="0" width="2" height="8" fill="#5AB8FF"/>
<rect x="120" y="4" width="5" height="1" fill="#FFF"/><rect x="121" y="2" width="3" height="1" fill="#CFE8FF"/>
<path d="M114.5,14.2 C112.5,14.2 112.5,10.8 115.2,10.6 C115.5,8.6 118.5,8.2 119.5,9.4 C120.5,6.6 125.5,6.6 126,9.6 C129.5,9.4 129.8,14.2 127,14.2 Z" fill="url(#gcloud)" stroke="#6A84B4" stroke-width="0.9"/>
<g fill="none"><circle cx="148.8" cy="7" r="7.4" stroke="#8AB0E4" stroke-width="0.9"/><circle cx="148.8" cy="7" r="4.6" stroke="#5A8ADC" stroke-width="1"/><path d="M149,14.4 A7.4,7.4 0 0 0 156.2,7" stroke="#50B050" stroke-width="1.6"/><path d="M148.8,7 V14.5" stroke="#20A020" stroke-width="1.3"/></g><circle cx="148.8" cy="7" r="1.8" fill="#2060C8"/>
<polygon points="168.5,6 182.5,6 181,11 175.5,14.5" fill="#F4E060" stroke="#C8A820" stroke-width="0.8"/>
<ellipse cx="175.8" cy="4" rx="7.5" ry="2.6" fill="#5CA8E0" stroke="#3A80C0" stroke-width="0.8"/>
<path d="M174,3 L175,-1 H177 L178,3 Z" fill="#80C0F0"/>
<circle cx="180.3" cy="10.7" r="4.2" fill="#E02010" stroke="#B01008" stroke-width="0.6"/><rect x="178.8" y="9.2" width="3" height="3" fill="#FFF"/>
<g stroke="#000" stroke-width="1" fill="none" shape-rendering="crispEdges"><path d="M190.5,0.5 H198.5 V10.5 H190.5 Z M190.5,3.5 H198.5 M190.5,6.5 H198.5 M194,-1 L193.5,0.5"/><path d="M202,1.5 H207 M201.5,4.5 H208 M204.5,5 L202,9.5 H207.5 M206,7.5 L207.5,9.5 M208,3.5 H212.5 V10.5 H210.5 M210.5,0 V5 L208.5,10.5"/><path d="M218.5,-1 V1 M213.5,2.5 H224.5 M216.5,4.5 L214.5,6.5 M221,4.5 L223.5,6.5 M216,7 L223,10.5 M222,7 L214,10.5"/><path d="M227.5,-0.5 H235.5 V4.5 H227.5 Z M227.5,2 H235.5 M226,6.5 H235 V10.5 H233.5 M228.5,7 L226,10 M231,7.5 L228.5,10.5 M233.5,7.5 L231,10.5"/></g>
<rect x="244" y="0" width="1" height="17" fill="#A0A0A0"/><rect x="245" y="0" width="1" height="17" fill="#FFFFFF"/>
<rect x="247" y="1" width="3" height="1" fill="#A8A8A8"/>
<rect x="247" y="3" width="3" height="1" fill="#A8A8A8"/>
<rect x="247" y="5" width="3" height="1" fill="#A8A8A8"/>
<rect x="247" y="7" width="3" height="1" fill="#A8A8A8"/>
<rect x="247" y="9" width="3" height="1" fill="#A8A8A8"/>
<rect x="247" y="11" width="3" height="1" fill="#A8A8A8"/>
<rect x="247" y="13" width="3" height="1" fill="#A8A8A8"/>
<rect x="247" y="15" width="3" height="1" fill="#A8A8A8"/>
<rect x="262" y="1" width="1" height="14" fill="#555"/>
<rect x="260" y="12" width="14" height="1" fill="#555"/>
<polygon points="261,3 264,3 262.5,1" fill="#555"/>
<polygon points="273,10.5 273,14.5 275,12.5" fill="#555"/>
<path d="M268.5,2 V11 M268.5,3.5 H271 M266,9.5 H268.5" stroke="#119911" stroke-width="1.2" fill="none"/>
<rect x="282" y="0" width="1" height="17" fill="#A0A0A0"/><rect x="283" y="0" width="1" height="17" fill="#FFFFFF"/>
<rect x="284" y="0" width="23" height="17" fill="#F7F7F7"/>
<rect x="290" y="1" width="1" height="14" fill="#555"/>
<rect x="288" y="12" width="14" height="1" fill="#555"/>
<polygon points="289,3 292,3 290.5,1" fill="#555"/>
<polygon points="301,10.5 301,14.5 303,12.5" fill="#555"/>
<rect x="296" y="-1" width="1" height="12" fill="#119911"/><rect x="294" y="1.5" width="4.5" height="7" fill="#55DD55" stroke="#119911" stroke-width="1"/>
<rect x="318" y="1" width="1" height="14" fill="#555"/>
<rect x="316" y="12" width="14" height="1" fill="#555"/>
<polygon points="317,3 320,3 318.5,1" fill="#555"/>
<polygon points="329,10.5 329,14.5 331,12.5" fill="#555"/>
<path d="M317,9.5 Q320,5 323,4 Q325.5,4 328.5,8" stroke="#2A9A2A" stroke-width="1.2" fill="none"/>
<rect x="339" y="0" width="1" height="17" fill="#A0A0A0"/><rect x="340" y="0" width="1" height="17" fill="#FFFFFF"/>
<path d="M357,8 L363,14" stroke="#B08000" stroke-width="3.2"/>
<path d="M357,8 L363,14" stroke="#F0D040" stroke-width="1.6"/>
<circle cx="354" cy="4.8" r="5.2" fill="#D2EAFA" stroke="#2F6FC0" stroke-width="1.1"/>
<rect x="351" y="4" width="6" height="1.8" fill="#4A88AA"/>
<rect x="353.1" y="1.5" width="1.8" height="6.5" fill="#4A88AA"/>
<path d="M385,8 L391,14" stroke="#B08000" stroke-width="3.2"/>
<path d="M385,8 L391,14" stroke="#F0D040" stroke-width="1.6"/>
<circle cx="382" cy="4.8" r="5.2" fill="#D2EAFA" stroke="#2F6FC0" stroke-width="1.1"/>
<rect x="379" y="4" width="6" height="1.8" fill="#4A88AA"/>
<rect x="404" y="-1" width="7.5" height="7.5" fill="#33A022"/>
<rect x="405.5" y="1.5" width="4.5" height="3" fill="#FFF"/>
<rect x="412" y="-1" width="7.5" height="7.5" fill="#2255CC"/>
<rect x="413.5" y="1.5" width="4.5" height="3" fill="#FFF"/>
<rect x="404" y="7" width="7.5" height="7.5" fill="#2255CC"/>
<rect x="405.5" y="9.5" width="4.5" height="3" fill="#FFF"/>
<rect x="412" y="7" width="7.5" height="7.5" fill="#33A022"/>
<rect x="413.5" y="9.5" width="4.5" height="3" fill="#FFF"/>
<rect x="429" y="0" width="1" height="17" fill="#A0A0A0"/><rect x="430" y="0" width="1" height="17" fill="#FFFFFF"/>
<rect x="435" y="0" width="24" height="17" fill="#F4F4F4"/>
<rect x="434" y="0" width="1" height="17" fill="#A0A0A0"/><rect x="435" y="0" width="1" height="17" fill="#FFFFFF"/>
<rect x="442" y="1" width="1" height="14" fill="#555"/>
<rect x="440" y="12" width="14" height="1" fill="#555"/>
<polygon points="441,3 444,3 442.5,1" fill="#555"/>
<polygon points="453,10.5 453,14.5 455,12.5" fill="#555"/>
<polygon points="447,3 447,10 451,6.5" fill="#66DD66" stroke="#119911" stroke-width="1"/>
<rect x="462" y="0" width="1" height="17" fill="#A0A0A0"/><rect x="463" y="0" width="1" height="17" fill="#FFFFFF"/>
<rect x="464" y="0" width="24" height="17" fill="#F4F4F4"/>
<rect x="470" y="1" width="1" height="14" fill="#555"/>
<rect x="468" y="12" width="14" height="1" fill="#555"/>
<polygon points="469,3 472,3 470.5,1" fill="#555"/>
<polygon points="481,10.5 481,14.5 483,12.5" fill="#555"/>
<rect x="476" y="1" width="1" height="10" fill="#1A6FA0"/>
<polygon points="477,6.5 480,4.5 480,8.5" fill="#E05010"/><rect x="479" y="6" width="4" height="1.2" fill="#B03000"/>
<rect x="491" y="0" width="1" height="17" fill="#A0A0A0"/><rect x="492" y="0" width="1" height="17" fill="#FFFFFF"/>
<path d="M503.5,-1 H511 L513.5,1.5 V11.5 H503.5 Z" fill="#FFF" stroke="#777" stroke-width="1"/>
<path d="M506,2 V9" stroke="#443322" stroke-width="1"/>
<path d="M510,5.5 H514 V9.5 H518 V13.5 H514 V17.5 H510 V13.5 H506 V9.5 H510 Z" fill="#33DD33" stroke="#119911" stroke-width="1"/>
<polygon points="523.0,6 528.0,6 525.5,9" fill="#000"/>
<circle cx="547" cy="7.5" r="7" fill="#1E6ED0"/><circle cx="547" cy="7.5" r="5" fill="#F4F4F4"/>
<path d="M546.5,3.5 V7.5 H549.5" stroke="#111" stroke-width="1" fill="none"/>
<polygon points="562.0,6 567.0,6 564.5,9" fill="#000"/>
<rect x="578.5" y="-0.5" width="15" height="14" fill="#FFF" stroke="#2D6CC0" stroke-width="1"/>
<rect x="579" y="0" width="14" height="2" fill="#5A8FD8"/>
<rect x="579" y="7" width="14" height="1" fill="#2D6CC0"/>
<path d="M580,6 L583,5 L586,4 L589,4.5 L592,3.5" stroke="#992211" stroke-width="1" fill="none"/>
<path d="M580,11 L583,10 L585,11 L588,8.5 L592,11" stroke="#22AA22" stroke-width="1" fill="none"/>
<polygon points="601.0,6 606.0,6 603.5,9" fill="#000"/>
<rect x="612" y="0" width="1" height="17" fill="#A0A0A0"/><rect x="613" y="0" width="1" height="17" fill="#FFFFFF"/>
<rect x="616" y="1" width="3" height="1" fill="#A8A8A8"/>
<rect x="616" y="3" width="3" height="1" fill="#A8A8A8"/>
<rect x="616" y="5" width="3" height="1" fill="#A8A8A8"/>
<rect x="616" y="7" width="3" height="1" fill="#A8A8A8"/>
<rect x="616" y="9" width="3" height="1" fill="#A8A8A8"/>
<rect x="616" y="11" width="3" height="1" fill="#A8A8A8"/>
<rect x="616" y="13" width="3" height="1" fill="#A8A8A8"/>
<rect x="616" y="15" width="3" height="1" fill="#A8A8A8"/>
<rect x="622" y="0" width="1" height="17" fill="#A0A0A0"/><rect x="623" y="0" width="1" height="17" fill="#FFFFFF"/>
<rect x="624" y="0" width="23" height="17" fill="#F7F7F7"/>
<polygon points="630,1 630,12 632.5,10 634.5,14.5 636.5,13.5 634.5,9.5 638,9.5" fill="#444"/>
<rect x="662" y="0" width="1" height="15" fill="#555"/><rect x="655" y="7" width="16" height="1" fill="#555"/><rect x="661" y="6" width="3" height="3" fill="#F0F0F0"/>
<rect x="679" y="0" width="1" height="17" fill="#A0A0A0"/><rect x="680" y="0" width="1" height="17" fill="#FFFFFF"/>
<rect x="696" y="2" width="1" height="12" fill="#555"/>
<rect x="719" y="7" width="12" height="1" fill="#555"/>
<path d="M746.5,14 L759,2" stroke="#555" stroke-width="1.1"/>
<path d="M773,12 L787,1 M774,9 L786,2 M776,13 L789,3" stroke="#444" stroke-width="1" fill="none"/><path d="M777,4 V11 M781,3 V10" stroke="#666" stroke-width="0.8"/>
<text x="783.5" y="15.5" font-family="Liberation Sans, sans-serif" font-size="7.5" font-weight="bold" fill="#333">E</text>
<g fill="#555"><rect x="801" y="1" width="1" height="1"/><rect x="803" y="1" width="1" height="1"/><rect x="805" y="1" width="1" height="1"/><rect x="807" y="1" width="1" height="1"/><rect x="809" y="1" width="1" height="1"/><rect x="811" y="1" width="1" height="1"/><rect x="813" y="1" width="1" height="1"/><rect x="801" y="4" width="1" height="1"/><rect x="803" y="4" width="1" height="1"/><rect x="805" y="4" width="1" height="1"/><rect x="807" y="4" width="1" height="1"/><rect x="809" y="4" width="1" height="1"/><rect x="811" y="4" width="1" height="1"/><rect x="813" y="4" width="1" height="1"/><rect x="801" y="7" width="1" height="1"/><rect x="803" y="7" width="1" height="1"/><rect x="805" y="7" width="1" height="1"/><rect x="807" y="7" width="1" height="1"/><rect x="809" y="7" width="1" height="1"/><rect x="811" y="7" width="1" height="1"/><rect x="813" y="7" width="1" height="1"/><rect x="801" y="10" width="1" height="1"/><rect x="803" y="10" width="1" height="1"/><rect x="805" y="10" width="1" height="1"/><rect x="807" y="10" width="1" height="1"/><rect x="809" y="10" width="1" height="1"/><rect x="811" y="10" width="1" height="1"/><rect x="813" y="10" width="1" height="1"/></g>
<text x="811" y="15.5" font-family="Liberation Sans, sans-serif" font-size="7.5" font-weight="bold" fill="#333">F</text>
<text x="832" y="12" font-family="Liberation Sans, sans-serif" font-size="12" font-weight="bold" fill="#444">A</text>
<rect x="858.5" y="1.5" width="11" height="11" fill="none" stroke="#777" stroke-width="1" stroke-dasharray="1,1"/>
<text x="860" y="11.5" font-family="Liberation Sans, sans-serif" font-size="11" font-weight="bold" fill="#444">T</text>
<polygon points="886,5 889.5,1.5 891,4 894,7 892.5,8.5 889.5,5.5 888,7.5" fill="#333"/><polygon points="891,11 894,8.5 898,12.5 895.5,15 894,13 892.5,14" fill="#333"/>
<polygon points="907.0,6 912.0,6 909.5,9" fill="#000"/>
<rect x="918" y="0" width="1" height="17" fill="#A0A0A0"/><rect x="919" y="0" width="1" height="17" fill="#FFFFFF"/>
<rect x="922" y="1" width="3" height="1" fill="#A8A8A8"/>
<rect x="922" y="3" width="3" height="1" fill="#A8A8A8"/>
<rect x="922" y="5" width="3" height="1" fill="#A8A8A8"/>
<rect x="922" y="7" width="3" height="1" fill="#A8A8A8"/>
<rect x="922" y="9" width="3" height="1" fill="#A8A8A8"/>
<rect x="922" y="11" width="3" height="1" fill="#A8A8A8"/>
<rect x="922" y="13" width="3" height="1" fill="#A8A8A8"/>
<rect x="922" y="15" width="3" height="1" fill="#A8A8A8"/>
<rect x="1069" y="0" width="24" height="17" fill="#F7F7F7"/>
<rect x="1068" y="0" width="1" height="17" fill="#A0A0A0"/>
<text x="940" y="11" text-anchor="middle" font-family="Liberation Sans, sans-serif" font-size="10.5" fill="#444">M1</text>
<text x="968" y="11" text-anchor="middle" font-family="Liberation Sans, sans-serif" font-size="10.5" fill="#444">M5</text>
<text x="996.5" y="11" text-anchor="middle" font-family="Liberation Sans, sans-serif" font-size="10.5" fill="#444">M15</text>
<text x="1024.5" y="11" text-anchor="middle" font-family="Liberation Sans, sans-serif" font-size="10.5" fill="#444">M30</text>
<text x="1052" y="11" text-anchor="middle" font-family="Liberation Sans, sans-serif" font-size="10.5" fill="#444">H1</text>
<text x="1079.5" y="11" text-anchor="middle" font-family="Liberation Sans, sans-serif" font-size="10.5" fill="#444">H4</text>
<text x="1108.5" y="11" text-anchor="middle" font-family="Liberation Sans, sans-serif" font-size="10.5" fill="#444">D1</text>
<text x="1137.5" y="11" text-anchor="middle" font-family="Liberation Sans, sans-serif" font-size="10.5" fill="#444">W1</text>
<text x="1164" y="11" text-anchor="middle" font-family="Liberation Sans, sans-serif" font-size="10.5" fill="#444">MN</text>
<rect x="1179" y="0" width="1" height="17" fill="#A0A0A0"/><rect x="1180" y="0" width="1" height="17" fill="#FFFFFF"/>
<circle cx="1649.5" cy="4.5" r="3.8" fill="#FFF" stroke="#2C6AD0" stroke-width="1.6"/>
<path d="M1646.8,7.3 L1642.5,11.8" stroke="#2458C0" stroke-width="2.4" stroke-linecap="round"/>
<ellipse cx="1671.5" cy="9.5" rx="6" ry="4.5" fill="#E8E8F0" stroke="#B8B8C0" stroke-width="1"/>
<polygon points="1668,13 1669,16 1671.5,13.5" fill="#B8B8C0"/>
<circle cx="1680.3" cy="4.8" r="8" fill="#DD3318"/>
<text x="1680.3" y="9.5" text-anchor="middle" font-family="Liberation Serif, serif" font-size="12" fill="#FFF">1</text>
</g>
<defs><linearGradient id="gbtn" x1="0" y1="0" x2="0" y2="1"><stop offset="0" stop-color="#5D5DFF"/><stop offset="1" stop-color="#3A3AE4"/></linearGradient><linearGradient id="gbox" x1="0" y1="0" x2="0" y2="1"><stop offset="0" stop-color="#3434E6"/><stop offset="1" stop-color="#0000A8"/></linearGradient><linearGradient id="gspin" x1="0" y1="0" x2="0" y2="1"><stop offset="0" stop-color="#F4F4F4"/><stop offset="0.45" stop-color="#E6E6E6"/><stop offset="0.5" stop-color="#D8D8D8"/><stop offset="1" stop-color="#D0D0D0"/></linearGradient></defs>
<g shape-rendering="crispEdges">
<rect x="0" y="43" width="211" height="58" fill="#FFFFFF"/>
<rect x="0" y="43" width="44" height="25" fill="url(#gbtn)"/>
<rect x="159" y="43" width="52" height="25" fill="url(#gbtn)"/>
<rect x="0" y="67" width="101" height="33" fill="url(#gbox)"/>
<rect x="103" y="67" width="108" height="33" fill="url(#gbox)"/>
<rect x="0" y="66" width="40" height="1" fill="#1A1AA0"/><rect x="0" y="67" width="40" height="1" fill="#6A6AF0"/>
<rect x="163" y="66" width="44" height="1" fill="#1A1AA0"/><rect x="163" y="67" width="44" height="1" fill="#6A6AF0"/>
<rect x="46.5" y="43.5" width="110" height="21" fill="#FFF" stroke="#ABABAB" stroke-width="1"/>
<rect x="47" y="44" width="20" height="20" fill="url(#gspin)"/><rect x="67" y="44" width="1" height="20" fill="#B4B4B4"/>
<rect x="135" y="44" width="1" height="20" fill="#B4B4B4"/><rect x="136" y="44" width="20" height="20" fill="url(#gspin)"/>
</g>
<polygon points="54.5,52.5 59.5,52.5 57,55.5" fill="#4060B0"/>
<polygon points="143.5,55.5 148.5,55.5 146,52.5" fill="#4060B0"/>
<text x="4.5" y="59" font-family="Liberation Sans, sans-serif" font-size="12" fill="#FFF" textLength="25.5" lengthAdjust="spacingAndGlyphs">SELL</text>
<text x="173" y="59" font-family="Liberation Sans, sans-serif" font-size="12" fill="#FFF" textLength="23" lengthAdjust="spacingAndGlyphs">BUY</text>
<text x="108.8" y="58.5" font-family="Liberation Sans, sans-serif" font-size="12" fill="#000" textLength="22.8" lengthAdjust="spacingAndGlyphs">1.00</text>
<text x="15.5" y="95" font-family="Liberation Sans, sans-serif" font-size="12.5" font-weight="bold" fill="#FFF" textLength="20.5" lengthAdjust="spacingAndGlyphs">109</text>
<text x="40.2" y="95" font-family="Liberation Sans, sans-serif" font-size="33" fill="#FFF" textLength="33" lengthAdjust="spacingAndGlyphs">93</text>
<text x="78.8" y="79" font-family="Liberation Sans, sans-serif" font-size="11.5" font-weight="bold" fill="#FFF" textLength="7" lengthAdjust="spacingAndGlyphs">4</text>
<text x="125.5" y="95" font-family="Liberation Sans, sans-serif" font-size="12.5" font-weight="bold" fill="#FFF" textLength="20.5" lengthAdjust="spacingAndGlyphs">109</text>
<text x="151.6" y="95" font-family="Liberation Sans, sans-serif" font-size="33" fill="#FFF" textLength="33" lengthAdjust="spacingAndGlyphs">95</text>
<text x="190.3" y="79" font-family="Liberation Sans, sans-serif" font-size="11.5" font-weight="bold" fill="#FFF" textLength="7" lengthAdjust="spacingAndGlyphs">2</text>
</svg>
</body></html>
